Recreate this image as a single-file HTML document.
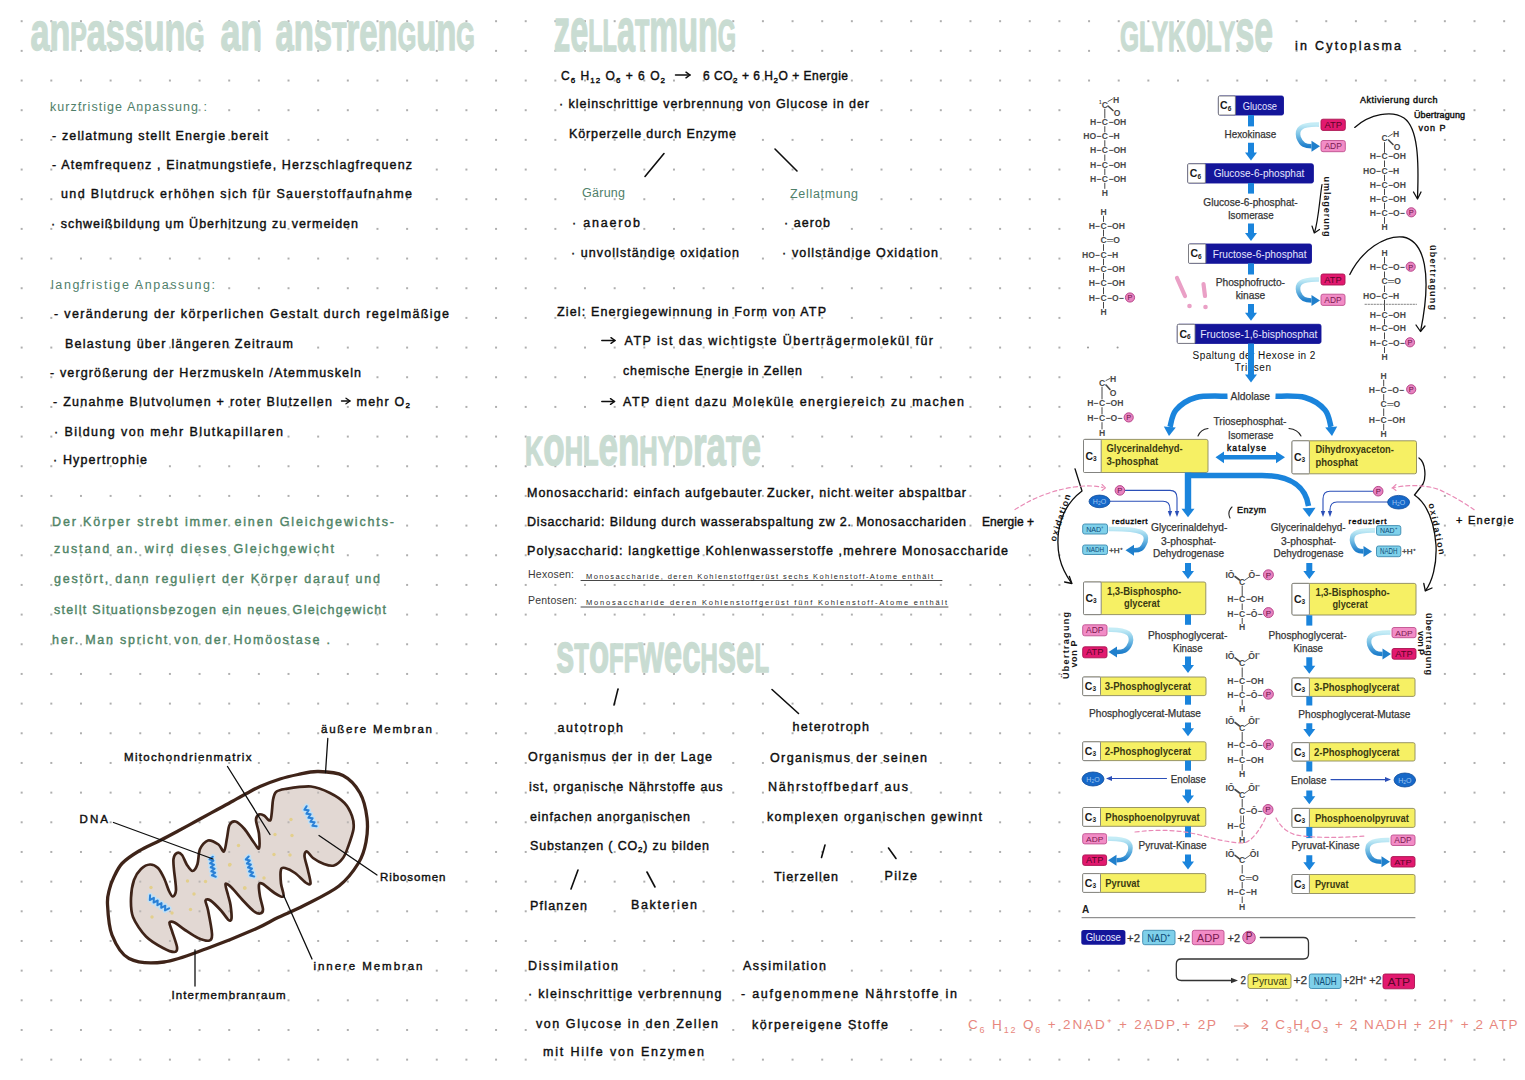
<!DOCTYPE html>
<html><head><meta charset="utf-8"><title>Notizen</title>
<style>
html,body{margin:0;padding:0;background:#fff;width:1525px;height:1080px;overflow:hidden}
svg{display:block;font-family:"Liberation Sans", sans-serif}
</style></head><body>
<svg width="1525" height="1080" viewBox="0 0 1525 1080">
<defs>
<pattern id="dots" x="6.84" y="6.36" width="29.65" height="29.67" patternUnits="userSpaceOnUse">
<circle cx="14.83" cy="14.84" r="1.05" fill="#9a9a9a"/>
</pattern>
</defs>
<rect width="1525" height="1080" fill="#fff"/>
<rect width="1525" height="1080" fill="url(#dots)"/>

<text x="30.4" y="50.0" fill="#c9dcd2" stroke="#c9dcd2" stroke-width="1.4" stroke-linejoin="round" font-weight="bold" textLength="174.2" lengthAdjust="spacingAndGlyphs"><tspan font-size="53.0">a</tspan><tspan font-size="53.0">n</tspan><tspan font-size="38.4">P</tspan><tspan font-size="53.0">a</tspan><tspan font-size="53.0">s</tspan><tspan font-size="53.0">s</tspan><tspan font-size="53.0">u</tspan><tspan font-size="53.0">n</tspan><tspan font-size="38.4">G</tspan></text>
<text x="220.4" y="50.0" fill="#c9dcd2" stroke="#c9dcd2" stroke-width="1.4" stroke-linejoin="round" font-weight="bold" textLength="41.9" lengthAdjust="spacingAndGlyphs"><tspan font-size="53.0">a</tspan><tspan font-size="53.0">n</tspan></text>
<text x="275.4" y="50.0" fill="#c9dcd2" stroke="#c9dcd2" stroke-width="1.4" stroke-linejoin="round" font-weight="bold" textLength="199.4" lengthAdjust="spacingAndGlyphs"><tspan font-size="53.0">a</tspan><tspan font-size="53.0">n</tspan><tspan font-size="53.0">s</tspan><tspan font-size="38.4">T</tspan><tspan font-size="53.0">r</tspan><tspan font-size="53.0">e</tspan><tspan font-size="53.0">n</tspan><tspan font-size="38.4">G</tspan><tspan font-size="53.0">u</tspan><tspan font-size="53.0">n</tspan><tspan font-size="38.4">G</tspan></text>
<text x="554.0" y="51.0" fill="#c9dcd2" stroke="#c9dcd2" stroke-width="1.4" stroke-linejoin="round" font-weight="bold" textLength="182.0" lengthAdjust="spacingAndGlyphs"><tspan font-size="60.6">z</tspan><tspan font-size="60.6">e</tspan><tspan font-size="43.9">L</tspan><tspan font-size="43.9">L</tspan><tspan font-size="60.6">a</tspan><tspan font-size="43.9">T</tspan><tspan font-size="60.6">m</tspan><tspan font-size="60.6">u</tspan><tspan font-size="60.6">n</tspan><tspan font-size="43.9">G</tspan></text>
<text x="525.0" y="465.0" fill="#c9dcd2" stroke="#c9dcd2" stroke-width="1.4" stroke-linejoin="round" font-weight="bold" textLength="236.0" lengthAdjust="spacingAndGlyphs"><tspan font-size="39.8">K</tspan><tspan font-size="54.9">o</tspan><tspan font-size="39.8">H</tspan><tspan font-size="39.8">L</tspan><tspan font-size="54.9">e</tspan><tspan font-size="54.9">n</tspan><tspan font-size="39.8">H</tspan><tspan font-size="39.8">Y</tspan><tspan font-size="39.8">D</tspan><tspan font-size="54.9">r</tspan><tspan font-size="54.9">a</tspan><tspan font-size="39.8">T</tspan><tspan font-size="54.9">e</tspan></text>
<text x="556.0" y="672.0" fill="#c9dcd2" stroke="#c9dcd2" stroke-width="1.4" stroke-linejoin="round" font-weight="bold" textLength="213.0" lengthAdjust="spacingAndGlyphs"><tspan font-size="54.9">s</tspan><tspan font-size="39.8">T</tspan><tspan font-size="54.9">o</tspan><tspan font-size="39.8">F</tspan><tspan font-size="39.8">F</tspan><tspan font-size="54.9">w</tspan><tspan font-size="54.9">e</tspan><tspan font-size="54.9">c</tspan><tspan font-size="39.8">H</tspan><tspan font-size="54.9">s</tspan><tspan font-size="54.9">e</tspan><tspan font-size="39.8">L</tspan></text>
<text x="1120.0" y="51.0" fill="#c9dcd2" stroke="#c9dcd2" stroke-width="1.4" stroke-linejoin="round" font-weight="bold" textLength="153.0" lengthAdjust="spacingAndGlyphs"><tspan font-size="42.5">G</tspan><tspan font-size="42.5">L</tspan><tspan font-size="42.5">Y</tspan><tspan font-size="42.5">K</tspan><tspan font-size="58.7">o</tspan><tspan font-size="42.5">L</tspan><tspan font-size="42.5">Y</tspan><tspan font-size="58.7">s</tspan><tspan font-size="58.7">e</tspan></text>
<text x="50.0" y="110.5" font-size="12.5" fill="#4f806a" font-weight="normal" textLength="157.0" lengthAdjust="spacing" >kurzfristige Anpassung :</text>
<text x="52.0" y="140.0" font-size="12.5" fill="#0e0e0e" font-weight="normal" stroke="#0e0e0e" stroke-width="0.4" textLength="216.0" lengthAdjust="spacing" >- zellatmung stellt Energie bereit</text>
<text x="52.0" y="169.0" font-size="12.5" fill="#0e0e0e" font-weight="normal" stroke="#0e0e0e" stroke-width="0.4" textLength="360.0" lengthAdjust="spacing" >- Atemfrequenz , Einatmungstiefe, Herzschlagfrequenz</text>
<text x="61.0" y="198.0" font-size="12.5" fill="#0e0e0e" font-weight="normal" stroke="#0e0e0e" stroke-width="0.4" textLength="351.0" lengthAdjust="spacing" >und Blutdruck erhöhen sich für Sauerstoffaufnahme</text>
<text x="51.0" y="228.0" font-size="12.5" fill="#0e0e0e" font-weight="normal" stroke="#0e0e0e" stroke-width="0.4" textLength="307.0" lengthAdjust="spacing" >· schweißbildung um Überhitzung zu vermeiden</text>
<text x="51.0" y="288.5" font-size="12.5" fill="#4f806a" font-weight="normal" textLength="164.0" lengthAdjust="spacing" >langfristige Anpassung:</text>
<text x="54.0" y="318.0" font-size="12.5" fill="#0e0e0e" font-weight="normal" stroke="#0e0e0e" stroke-width="0.4" textLength="395.0" lengthAdjust="spacing" >- veränderung der körperlichen Gestalt durch regelmäßige</text>
<text x="65.0" y="347.5" font-size="12.5" fill="#0e0e0e" font-weight="normal" stroke="#0e0e0e" stroke-width="0.4" textLength="228.0" lengthAdjust="spacing" >Belastung über längeren Zeitraum</text>
<text x="50.0" y="377.0" font-size="12.5" fill="#0e0e0e" font-weight="normal" stroke="#0e0e0e" stroke-width="0.4" textLength="311.0" lengthAdjust="spacing" >- vergrößerung der Herzmuskeln /Atemmuskeln</text>
<text x="53.0" y="405.5" font-size="12.5" fill="#0e0e0e" font-weight="normal" stroke="#0e0e0e" stroke-width="0.4" textLength="279.0" lengthAdjust="spacing" >- Zunahme Blutvolumen + roter Blutzellen</text>
<line x1="341.5" y1="401.0" x2="350.0" y2="401.0" stroke="#0e0e0e" stroke-width="1.3" stroke-linecap="round" />
<path d="M346.0,398.2 L350.0,401.0 L346.0,403.8" stroke="#0e0e0e" stroke-width="1.3" fill="none" stroke-linecap="round" stroke-linejoin="round" />
<text x="356.5" y="405.5" font-size="12.5" fill="#0e0e0e" font-weight="normal" stroke="#0e0e0e" stroke-width="0.4" textLength="53.5" lengthAdjust="spacing" >mehr O<tspan font-size="8" dy="2.5">2</tspan></text>
<text x="54.0" y="435.5" font-size="12.5" fill="#0e0e0e" font-weight="normal" stroke="#0e0e0e" stroke-width="0.4" textLength="229.0" lengthAdjust="spacing" >·  Bildung von mehr Blutkapillaren</text>
<text x="53.0" y="464.0" font-size="12.5" fill="#0e0e0e" font-weight="normal" stroke="#0e0e0e" stroke-width="0.4" textLength="94.0" lengthAdjust="spacing" >· Hypertrophie</text>
<text x="52.0" y="525.5" font-size="12.5" fill="#4f8466" font-weight="normal" stroke="#4f8466" stroke-width="0.4" textLength="342.0" lengthAdjust="spacing" >Der Körper strebt immer einen Gleichgewichts-</text>
<text x="54.0" y="553.0" font-size="12.5" fill="#4f8466" font-weight="normal" stroke="#4f8466" stroke-width="0.4" textLength="280.0" lengthAdjust="spacing" >zustand an. wird dieses Gleichgewicht</text>
<text x="54.0" y="583.0" font-size="12.5" fill="#4f8466" font-weight="normal" stroke="#4f8466" stroke-width="0.4" textLength="326.0" lengthAdjust="spacing" >gestört, dann reguliert der Körper darauf und</text>
<text x="54.0" y="614.0" font-size="12.5" fill="#4f8466" font-weight="normal" stroke="#4f8466" stroke-width="0.4" textLength="332.0" lengthAdjust="spacing" >stellt Situationsbezogen ein neues Gleichgewicht</text>
<text x="52.0" y="644.0" font-size="12.5" fill="#4f8466" font-weight="normal" stroke="#4f8466" stroke-width="0.4" textLength="278.0" lengthAdjust="spacing" >her. Man spricht von der Homöostase .</text>
<text x="561.0" y="80.0" font-size="12" fill="#0e0e0e" font-weight="normal" stroke="#0e0e0e" stroke-width="0.4" textLength="104.0" lengthAdjust="spacing" >C<tspan font-size="8" dy="2.5">6</tspan><tspan dy="-2.5"> H</tspan><tspan font-size="8" dy="2.5">12</tspan><tspan dy="-2.5"> O</tspan><tspan font-size="8" dy="2.5">6</tspan><tspan dy="-2.5">  +  6 O</tspan><tspan font-size="8" dy="2.5">2</tspan></text>
<line x1="675.5" y1="75.0" x2="690.0" y2="75.0" stroke="#0e0e0e" stroke-width="1.5" stroke-linecap="round" />
<path d="M686.0,72.2 L690.0,75.0 L686.0,77.8" stroke="#0e0e0e" stroke-width="1.5" fill="none" stroke-linecap="round" stroke-linejoin="round" />
<text x="703.0" y="80.0" font-size="12" fill="#0e0e0e" font-weight="normal" stroke="#0e0e0e" stroke-width="0.4" textLength="145.0" lengthAdjust="spacing" >6 CO<tspan font-size="8" dy="2.5">2</tspan><tspan dy="-2.5"> + 6 H</tspan><tspan font-size="8" dy="2.5">2</tspan><tspan dy="-2.5">O + Energie</tspan></text>
<text x="559.0" y="108.0" font-size="12.5" fill="#0e0e0e" font-weight="normal" stroke="#0e0e0e" stroke-width="0.4" textLength="310.0" lengthAdjust="spacing" >· kleinschrittige verbrennung von Glucose in der</text>
<text x="569.0" y="137.5" font-size="12.5" fill="#0e0e0e" font-weight="normal" stroke="#0e0e0e" stroke-width="0.4" textLength="167.0" lengthAdjust="spacing" >Körperzelle durch Enzyme</text>
<line x1="664.0" y1="153.5" x2="645.0" y2="176.5" stroke="#0e0e0e" stroke-width="1.6" stroke-linecap="round" />
<line x1="775.0" y1="149.0" x2="797.0" y2="171.0" stroke="#0e0e0e" stroke-width="1.6" stroke-linecap="round" />
<text x="582.0" y="197.0" font-size="12.5" fill="#4f806a" font-weight="normal" textLength="43.0" lengthAdjust="spacing" >Gärung</text>
<text x="790.0" y="198.0" font-size="12.5" fill="#4f806a" font-weight="normal" textLength="68.0" lengthAdjust="spacing" >Zellatmung</text>
<text x="572.0" y="227.0" font-size="12.5" fill="#0e0e0e" font-weight="normal" stroke="#0e0e0e" stroke-width="0.4" textLength="68.0" lengthAdjust="spacing" >·  anaerob</text>
<text x="784.0" y="227.0" font-size="12.5" fill="#0e0e0e" font-weight="normal" stroke="#0e0e0e" stroke-width="0.4" textLength="46.0" lengthAdjust="spacing" >· aerob</text>
<text x="571.0" y="256.5" font-size="12.5" fill="#0e0e0e" font-weight="normal" stroke="#0e0e0e" stroke-width="0.4" textLength="168.0" lengthAdjust="spacing" >· unvollständige oxidation</text>
<text x="782.0" y="256.5" font-size="12.5" fill="#0e0e0e" font-weight="normal" stroke="#0e0e0e" stroke-width="0.4" textLength="156.0" lengthAdjust="spacing" >· vollständige Oxidation</text>
<text x="557.0" y="316.0" font-size="12.5" fill="#0e0e0e" font-weight="normal" stroke="#0e0e0e" stroke-width="0.4" textLength="269.0" lengthAdjust="spacing" >Ziel:  Energiegewinnung in Form von ATP</text>
<line x1="601.8" y1="340.5" x2="615.0" y2="340.5" stroke="#0e0e0e" stroke-width="1.5" stroke-linecap="round" />
<path d="M611.0,337.7 L615.0,340.5 L611.0,343.3" stroke="#0e0e0e" stroke-width="1.5" fill="none" stroke-linecap="round" stroke-linejoin="round" />
<text x="624.5" y="345.0" font-size="12.5" fill="#0e0e0e" font-weight="normal" stroke="#0e0e0e" stroke-width="0.4" textLength="308.5" lengthAdjust="spacing" >ATP ist das wichtigste Überträgermolekül für</text>
<text x="623.0" y="375.0" font-size="12.5" fill="#0e0e0e" font-weight="normal" stroke="#0e0e0e" stroke-width="0.4" textLength="179.0" lengthAdjust="spacing" >chemische Energie in Zellen</text>
<line x1="601.8" y1="401.5" x2="614.5" y2="401.5" stroke="#0e0e0e" stroke-width="1.5" stroke-linecap="round" />
<path d="M610.5,398.7 L614.5,401.5 L610.5,404.3" stroke="#0e0e0e" stroke-width="1.5" fill="none" stroke-linecap="round" stroke-linejoin="round" />
<text x="623.0" y="406.0" font-size="12.5" fill="#0e0e0e" font-weight="normal" stroke="#0e0e0e" stroke-width="0.4" textLength="341.0" lengthAdjust="spacing" >ATP dient dazu Moleküle energiereich zu machen</text>
<text x="527.0" y="496.5" font-size="12.5" fill="#0e0e0e" font-weight="normal" stroke="#0e0e0e" stroke-width="0.4" textLength="439.0" lengthAdjust="spacing" >Monosaccharid:  einfach aufgebauter Zucker, nicht weiter abspaltbar</text>
<text x="527.0" y="526.0" font-size="12.5" fill="#0e0e0e" font-weight="normal" stroke="#0e0e0e" stroke-width="0.4" textLength="439.0" lengthAdjust="spacing" >Disaccharid: Bildung durch wasserabspaltung zw 2. Monosacchariden</text>
<text x="527.0" y="555.0" font-size="12.5" fill="#0e0e0e" font-weight="normal" stroke="#0e0e0e" stroke-width="0.4" textLength="481.0" lengthAdjust="spacing" >Polysaccharid: langkettige Kohlenwasserstoffe ,mehrere Monosaccharide</text>
<text x="528.0" y="577.5" font-size="10.5" fill="#3a3a3a" font-weight="normal" textLength="46.0" lengthAdjust="spacing" >Hexosen:</text>
<text x="586.0" y="579.0" font-size="7.5" fill="#2a2a2a" font-weight="normal" textLength="347.0" lengthAdjust="spacing" >Monosaccharide, deren Kohlenstoffgerüst sechs Kohlenstoff-Atome enthält</text>
<line x1="581.0" y1="580.5" x2="942.0" y2="580.5" stroke="#333" stroke-width="0.9" stroke-linecap="round" />
<text x="528.0" y="604.0" font-size="10.5" fill="#3a3a3a" font-weight="normal" textLength="49.0" lengthAdjust="spacing" >Pentosen:</text>
<text x="586.0" y="605.0" font-size="7.5" fill="#2a2a2a" font-weight="normal" textLength="361.0" lengthAdjust="spacing" >Monosaccharide deren Kohlenstoffgerüst fünf Kohlenstoff-Atome enthält</text>
<line x1="581.0" y1="607.0" x2="948.0" y2="607.0" stroke="#333" stroke-width="0.9" stroke-linecap="round" />
<line x1="618.0" y1="689.0" x2="614.0" y2="705.0" stroke="#0e0e0e" stroke-width="1.6" stroke-linecap="round" />
<line x1="772.0" y1="689.5" x2="798.5" y2="713.5" stroke="#0e0e0e" stroke-width="1.6" stroke-linecap="round" />
<text x="557.5" y="731.5" font-size="12.5" fill="#0e0e0e" font-weight="normal" stroke="#0e0e0e" stroke-width="0.4" textLength="65.5" lengthAdjust="spacing" >autotroph</text>
<text x="792.5" y="731.0" font-size="12.5" fill="#0e0e0e" font-weight="normal" stroke="#0e0e0e" stroke-width="0.4" textLength="76.5" lengthAdjust="spacing" >heterotroph</text>
<text x="528.0" y="761.0" font-size="12.5" fill="#0e0e0e" font-weight="normal" stroke="#0e0e0e" stroke-width="0.4" textLength="184.0" lengthAdjust="spacing" >Organismus der in der Lage</text>
<text x="770.0" y="761.5" font-size="12.5" fill="#0e0e0e" font-weight="normal" stroke="#0e0e0e" stroke-width="0.4" textLength="157.0" lengthAdjust="spacing" >Organismus der seinen</text>
<text x="529.0" y="790.5" font-size="12.5" fill="#0e0e0e" font-weight="normal" stroke="#0e0e0e" stroke-width="0.4" textLength="193.5" lengthAdjust="spacing" >ist, organische Nährstoffe aus</text>
<text x="768.0" y="790.5" font-size="12.5" fill="#0e0e0e" font-weight="normal" stroke="#0e0e0e" stroke-width="0.4" textLength="140.0" lengthAdjust="spacing" >Nährstoffbedarf aus</text>
<text x="530.0" y="820.5" font-size="12.5" fill="#0e0e0e" font-weight="normal" stroke="#0e0e0e" stroke-width="0.4" textLength="160.0" lengthAdjust="spacing" >einfachen anorganischen</text>
<text x="767.0" y="820.5" font-size="12.5" fill="#0e0e0e" font-weight="normal" stroke="#0e0e0e" stroke-width="0.4" textLength="215.0" lengthAdjust="spacing" >komplexen organischen gewinnt</text>
<text x="530.0" y="849.5" font-size="12.5" fill="#0e0e0e" font-weight="normal" stroke="#0e0e0e" stroke-width="0.4" textLength="179.0" lengthAdjust="spacing" >Substanzen ( CO<tspan font-size="8" dy="2.5">2</tspan><tspan dy="-2.5">) zu bilden</tspan></text>
<line x1="578.0" y1="870.0" x2="571.0" y2="889.0" stroke="#0e0e0e" stroke-width="1.6" stroke-linecap="round" />
<line x1="647.0" y1="872.0" x2="655.0" y2="887.0" stroke="#0e0e0e" stroke-width="1.6" stroke-linecap="round" />
<line x1="825.0" y1="845.0" x2="821.5" y2="857.5" stroke="#0e0e0e" stroke-width="1.6" stroke-linecap="round" />
<line x1="888.5" y1="848.0" x2="896.0" y2="858.5" stroke="#0e0e0e" stroke-width="1.6" stroke-linecap="round" />
<text x="774.0" y="880.5" font-size="12.5" fill="#0e0e0e" font-weight="normal" stroke="#0e0e0e" stroke-width="0.4" textLength="64.0" lengthAdjust="spacing" >Tierzellen</text>
<text x="884.5" y="880.0" font-size="12.5" fill="#0e0e0e" font-weight="normal" stroke="#0e0e0e" stroke-width="0.4" textLength="32.5" lengthAdjust="spacing" >Pilze</text>
<text x="530.0" y="910.0" font-size="12.5" fill="#0e0e0e" font-weight="normal" stroke="#0e0e0e" stroke-width="0.4" textLength="57.0" lengthAdjust="spacing" >Pflanzen</text>
<text x="631.0" y="909.0" font-size="12.5" fill="#0e0e0e" font-weight="normal" stroke="#0e0e0e" stroke-width="0.4" textLength="66.0" lengthAdjust="spacing" >Bakterien</text>
<text x="528.0" y="969.5" font-size="12.5" fill="#0e0e0e" font-weight="normal" stroke="#0e0e0e" stroke-width="0.4" textLength="90.0" lengthAdjust="spacing" >Dissimilation</text>
<text x="743.0" y="969.5" font-size="12.5" fill="#0e0e0e" font-weight="normal" stroke="#0e0e0e" stroke-width="0.4" textLength="83.0" lengthAdjust="spacing" >Assimilation</text>
<text x="528.0" y="997.5" font-size="12.5" fill="#0e0e0e" font-weight="normal" stroke="#0e0e0e" stroke-width="0.4" textLength="193.5" lengthAdjust="spacing" >·  kleinschrittige verbrennung</text>
<text x="741.0" y="998.0" font-size="12.5" fill="#0e0e0e" font-weight="normal" stroke="#0e0e0e" stroke-width="0.4" textLength="216.0" lengthAdjust="spacing" >- aufgenommene Nährstoffe in</text>
<text x="536.0" y="1028.0" font-size="12.5" fill="#0e0e0e" font-weight="normal" stroke="#0e0e0e" stroke-width="0.4" textLength="182.0" lengthAdjust="spacing" >von Glucose in den  Zellen</text>
<text x="752.0" y="1029.0" font-size="12.5" fill="#0e0e0e" font-weight="normal" stroke="#0e0e0e" stroke-width="0.4" textLength="136.0" lengthAdjust="spacing" >körpereigene Stoffe</text>
<text x="543.0" y="1056.0" font-size="12.5" fill="#0e0e0e" font-weight="normal" stroke="#0e0e0e" stroke-width="0.4" textLength="161.0" lengthAdjust="spacing" >mit Hilfe von Enzymen</text>
<text x="982.0" y="526.0" font-size="12" fill="#0e0e0e" font-weight="normal" stroke="#0e0e0e" stroke-width="0.4" textLength="52.0" lengthAdjust="spacing" >Energie  +</text>
<text x="1295.0" y="50.0" font-size="12.5" fill="#0e0e0e" font-weight="normal" stroke="#0e0e0e" stroke-width="0.4" textLength="106.0" lengthAdjust="spacing" >in Cytoplasma</text>
<text x="968.0" y="1029.3" font-size="13.5" fill="#e8877e" font-weight="normal" textLength="248.0" lengthAdjust="spacing" >C<tspan font-size="9" dy="4">6</tspan><tspan dy="-4"> H</tspan><tspan font-size="9" dy="4">12</tspan><tspan dy="-4"> O</tspan><tspan font-size="9" dy="4">6</tspan><tspan dy="-4">  + 2NAD⁺ + 2ADP + 2P</tspan></text>
<line x1="1234.5" y1="1026.0" x2="1248.0" y2="1026.0" stroke="#e8877e" stroke-width="1.1" stroke-linecap="round" />
<path d="M1244.0,1023.2 L1248.0,1026.0 L1244.0,1028.8" stroke="#e8877e" stroke-width="1.1" fill="none" stroke-linecap="round" stroke-linejoin="round" />
<text x="1261.0" y="1029.3" font-size="13.5" fill="#e8877e" font-weight="normal" textLength="256.5" lengthAdjust="spacing" >2 C<tspan font-size="9" dy="4">3</tspan><tspan dy="-4">H</tspan><tspan font-size="9" dy="4">4</tspan><tspan dy="-4">O</tspan><tspan font-size="9" dy="4">3</tspan><tspan dy="-4">  + 2 NADH + 2H⁺ + 2 ATP</tspan></text>
<path d="M107.5,904.0 C107.1,896.3 108.5,893.3 109.5,889.0 C110.5,884.7 111.4,882.2 113.5,878.0 C115.6,873.8 117.8,868.0 122.0,863.5 C126.2,859.0 132.7,854.8 139.0,851.0 C145.3,847.2 153.5,843.8 160.0,840.5 C166.5,837.2 171.3,834.6 178.0,831.0 C184.7,827.4 193.6,822.5 200.0,819.0 C206.4,815.5 211.0,813.0 216.5,810.0 C222.0,807.0 228.0,803.8 233.0,801.0 C238.0,798.2 242.0,795.9 246.5,793.5 C251.0,791.1 254.4,788.9 260.0,786.5 C265.6,784.1 273.7,781.0 280.0,779.0 C286.3,777.0 291.7,775.8 298.0,774.5 C304.3,773.2 310.5,771.3 318.0,771.5 C325.5,771.7 336.0,771.9 343.0,775.5 C350.0,779.1 356.0,785.9 360.0,793.0 C364.0,800.1 366.0,809.8 367.0,818.0 C368.0,826.2 367.4,834.5 366.0,842.0 C364.6,849.5 363.0,855.7 358.5,863.0 C354.0,870.3 348.1,878.9 339.0,886.0 C329.9,893.1 314.2,900.2 304.0,905.5 C293.8,910.8 286.1,913.6 278.0,917.5 C269.9,921.4 267.3,923.8 255.5,929.0 C243.7,934.2 222.2,943.0 207.0,948.5 C191.8,954.0 177.0,960.3 164.0,962.0 C151.0,963.7 137.7,963.0 129.0,958.5 C120.3,954.0 115.6,944.1 112.0,935.0 C108.4,925.9 107.9,911.7 107.5,904.0Z" stroke="#3f2419" stroke-width="3.3" fill="none" stroke-linecap="round" stroke-linejoin="round" />
<clipPath id="mclip"><path d="M131.0,898.0 C131.2,892.5 132.5,884.4 134.0,880.0 C135.5,875.6 138.6,871.3 141.0,869.0 C143.4,866.7 147.4,864.6 150.0,864.5 C152.6,864.4 155.9,866.0 158.0,868.0 C160.1,870.0 162.3,874.5 164.0,878.0 C165.7,881.5 167.7,888.2 169.0,891.0 C170.3,893.8 171.9,896.6 173.0,896.5 C174.1,896.4 175.8,894.0 176.0,890.0 C176.2,886.0 174.4,874.6 174.0,870.0 C173.6,865.4 173.1,861.5 173.5,859.0 C173.9,856.5 175.7,853.6 177.0,853.0 C178.3,852.4 180.5,853.2 182.0,855.0 C183.5,856.8 185.4,862.6 187.0,865.0 C188.6,867.4 190.9,871.1 192.5,871.0 C194.1,870.9 196.4,867.3 197.5,864.0 C198.6,860.7 198.4,852.5 200.0,849.0 C201.6,845.5 205.2,841.2 208.0,840.5 C210.8,839.8 216.1,842.9 218.5,844.5 C220.9,846.1 222.7,852.5 224.0,851.5 C225.3,850.5 226.2,842.0 227.0,838.0 C227.8,834.0 228.2,827.5 229.5,825.0 C230.8,822.5 233.2,820.9 235.5,821.5 C237.8,822.1 241.8,825.9 244.5,829.0 C247.2,832.1 251.3,839.1 253.5,842.0 C255.7,844.9 258.2,849.7 259.0,848.5 C259.8,847.3 259.4,838.3 259.0,834.0 C258.6,829.7 256.0,822.9 256.0,820.0 C256.0,817.1 257.8,815.2 259.0,814.5 C260.2,813.8 262.3,814.7 264.0,815.5 C265.7,816.3 269.1,822.3 270.5,820.0 C271.9,817.7 272.2,804.2 273.0,800.0 C273.8,795.8 274.2,793.6 276.0,792.0 C277.8,790.4 279.8,789.8 285.0,789.0 C290.2,788.2 304.2,785.9 311.0,786.5 C317.8,787.1 325.0,790.5 330.0,793.0 C335.0,795.5 341.2,799.5 344.5,803.0 C347.8,806.5 350.6,812.1 352.0,816.0 C353.4,819.9 354.1,824.4 353.5,829.0 C352.9,833.6 349.6,842.6 348.0,847.0 C346.4,851.4 345.1,855.2 343.0,858.0 C340.9,860.8 336.9,864.6 334.0,865.5 C331.1,866.4 327.1,865.1 324.0,864.0 C320.9,862.9 315.6,859.9 313.0,858.0 C310.4,856.1 308.3,851.8 307.0,851.5 C305.7,851.2 304.4,853.1 304.5,856.0 C304.6,858.9 307.1,866.4 308.0,870.5 C308.9,874.6 310.9,881.7 310.5,883.5 C310.1,885.3 307.8,884.1 305.5,882.5 C303.2,880.9 298.1,875.2 295.0,873.0 C291.9,870.8 287.1,868.5 285.0,868.0 C282.9,867.5 281.6,867.2 281.0,869.5 C280.4,871.8 280.6,879.5 281.0,883.5 C281.4,887.5 284.5,895.1 283.5,896.5 C282.5,897.9 277.6,894.9 274.5,893.0 C271.4,891.1 265.3,885.3 263.0,884.0 C260.7,882.7 259.4,882.6 259.0,884.5 C258.6,886.4 259.4,892.8 260.0,896.5 C260.6,900.2 263.0,907.0 263.0,909.5 C263.0,912.0 261.4,913.3 260.0,913.5 C258.6,913.7 256.1,913.0 253.5,911.0 C250.9,909.0 246.3,904.0 243.0,900.5 C239.7,897.0 234.1,890.0 231.5,887.5 C228.9,885.0 226.0,882.9 225.5,884.0 C225.0,885.1 227.2,891.9 228.0,895.0 C228.8,898.1 230.0,901.5 230.5,905.0 C231.0,908.5 231.8,916.2 231.5,918.5 C231.2,920.8 230.1,921.2 228.5,920.0 C226.9,918.8 223.7,913.4 221.0,910.5 C218.3,907.6 212.8,902.0 210.5,900.5 C208.2,899.0 205.9,899.1 205.5,900.5 C205.1,901.9 207.0,905.0 208.0,910.0 C209.0,915.0 211.8,929.4 212.0,934.0 C212.2,938.6 211.6,939.9 209.5,940.5 C207.4,941.1 201.7,939.6 198.0,938.0 C194.3,936.4 188.5,932.3 185.0,930.0 C181.5,927.7 176.8,923.6 174.5,922.5 C172.2,921.4 169.9,921.2 169.5,922.5 C169.1,923.8 170.9,927.3 172.0,931.0 C173.1,934.7 176.6,943.9 177.0,947.0 C177.4,950.1 176.6,951.9 174.5,952.0 C172.4,952.1 167.3,950.3 163.0,948.0 C158.7,945.7 150.5,941.1 146.0,936.5 C141.5,931.9 135.2,922.8 133.0,917.0 C130.8,911.2 130.8,903.5 131.0,898.0Z"/></clipPath>
<path d="M131.0,898.0 C131.2,892.5 132.5,884.4 134.0,880.0 C135.5,875.6 138.6,871.3 141.0,869.0 C143.4,866.7 147.4,864.6 150.0,864.5 C152.6,864.4 155.9,866.0 158.0,868.0 C160.1,870.0 162.3,874.5 164.0,878.0 C165.7,881.5 167.7,888.2 169.0,891.0 C170.3,893.8 171.9,896.6 173.0,896.5 C174.1,896.4 175.8,894.0 176.0,890.0 C176.2,886.0 174.4,874.6 174.0,870.0 C173.6,865.4 173.1,861.5 173.5,859.0 C173.9,856.5 175.7,853.6 177.0,853.0 C178.3,852.4 180.5,853.2 182.0,855.0 C183.5,856.8 185.4,862.6 187.0,865.0 C188.6,867.4 190.9,871.1 192.5,871.0 C194.1,870.9 196.4,867.3 197.5,864.0 C198.6,860.7 198.4,852.5 200.0,849.0 C201.6,845.5 205.2,841.2 208.0,840.5 C210.8,839.8 216.1,842.9 218.5,844.5 C220.9,846.1 222.7,852.5 224.0,851.5 C225.3,850.5 226.2,842.0 227.0,838.0 C227.8,834.0 228.2,827.5 229.5,825.0 C230.8,822.5 233.2,820.9 235.5,821.5 C237.8,822.1 241.8,825.9 244.5,829.0 C247.2,832.1 251.3,839.1 253.5,842.0 C255.7,844.9 258.2,849.7 259.0,848.5 C259.8,847.3 259.4,838.3 259.0,834.0 C258.6,829.7 256.0,822.9 256.0,820.0 C256.0,817.1 257.8,815.2 259.0,814.5 C260.2,813.8 262.3,814.7 264.0,815.5 C265.7,816.3 269.1,822.3 270.5,820.0 C271.9,817.7 272.2,804.2 273.0,800.0 C273.8,795.8 274.2,793.6 276.0,792.0 C277.8,790.4 279.8,789.8 285.0,789.0 C290.2,788.2 304.2,785.9 311.0,786.5 C317.8,787.1 325.0,790.5 330.0,793.0 C335.0,795.5 341.2,799.5 344.5,803.0 C347.8,806.5 350.6,812.1 352.0,816.0 C353.4,819.9 354.1,824.4 353.5,829.0 C352.9,833.6 349.6,842.6 348.0,847.0 C346.4,851.4 345.1,855.2 343.0,858.0 C340.9,860.8 336.9,864.6 334.0,865.5 C331.1,866.4 327.1,865.1 324.0,864.0 C320.9,862.9 315.6,859.9 313.0,858.0 C310.4,856.1 308.3,851.8 307.0,851.5 C305.7,851.2 304.4,853.1 304.5,856.0 C304.6,858.9 307.1,866.4 308.0,870.5 C308.9,874.6 310.9,881.7 310.5,883.5 C310.1,885.3 307.8,884.1 305.5,882.5 C303.2,880.9 298.1,875.2 295.0,873.0 C291.9,870.8 287.1,868.5 285.0,868.0 C282.9,867.5 281.6,867.2 281.0,869.5 C280.4,871.8 280.6,879.5 281.0,883.5 C281.4,887.5 284.5,895.1 283.5,896.5 C282.5,897.9 277.6,894.9 274.5,893.0 C271.4,891.1 265.3,885.3 263.0,884.0 C260.7,882.7 259.4,882.6 259.0,884.5 C258.6,886.4 259.4,892.8 260.0,896.5 C260.6,900.2 263.0,907.0 263.0,909.5 C263.0,912.0 261.4,913.3 260.0,913.5 C258.6,913.7 256.1,913.0 253.5,911.0 C250.9,909.0 246.3,904.0 243.0,900.5 C239.7,897.0 234.1,890.0 231.5,887.5 C228.9,885.0 226.0,882.9 225.5,884.0 C225.0,885.1 227.2,891.9 228.0,895.0 C228.8,898.1 230.0,901.5 230.5,905.0 C231.0,908.5 231.8,916.2 231.5,918.5 C231.2,920.8 230.1,921.2 228.5,920.0 C226.9,918.8 223.7,913.4 221.0,910.5 C218.3,907.6 212.8,902.0 210.5,900.5 C208.2,899.0 205.9,899.1 205.5,900.5 C205.1,901.9 207.0,905.0 208.0,910.0 C209.0,915.0 211.8,929.4 212.0,934.0 C212.2,938.6 211.6,939.9 209.5,940.5 C207.4,941.1 201.7,939.6 198.0,938.0 C194.3,936.4 188.5,932.3 185.0,930.0 C181.5,927.7 176.8,923.6 174.5,922.5 C172.2,921.4 169.9,921.2 169.5,922.5 C169.1,923.8 170.9,927.3 172.0,931.0 C173.1,934.7 176.6,943.9 177.0,947.0 C177.4,950.1 176.6,951.9 174.5,952.0 C172.4,952.1 167.3,950.3 163.0,948.0 C158.7,945.7 150.5,941.1 146.0,936.5 C141.5,931.9 135.2,922.8 133.0,917.0 C130.8,911.2 130.8,903.5 131.0,898.0Z" fill="#e2d8d3"/>
<rect x="100" y="760" width="280" height="210" fill="url(#dots)" clip-path="url(#mclip)" opacity="0.7"/>
<path d="M131.0,898.0 C131.2,892.5 132.5,884.4 134.0,880.0 C135.5,875.6 138.6,871.3 141.0,869.0 C143.4,866.7 147.4,864.6 150.0,864.5 C152.6,864.4 155.9,866.0 158.0,868.0 C160.1,870.0 162.3,874.5 164.0,878.0 C165.7,881.5 167.7,888.2 169.0,891.0 C170.3,893.8 171.9,896.6 173.0,896.5 C174.1,896.4 175.8,894.0 176.0,890.0 C176.2,886.0 174.4,874.6 174.0,870.0 C173.6,865.4 173.1,861.5 173.5,859.0 C173.9,856.5 175.7,853.6 177.0,853.0 C178.3,852.4 180.5,853.2 182.0,855.0 C183.5,856.8 185.4,862.6 187.0,865.0 C188.6,867.4 190.9,871.1 192.5,871.0 C194.1,870.9 196.4,867.3 197.5,864.0 C198.6,860.7 198.4,852.5 200.0,849.0 C201.6,845.5 205.2,841.2 208.0,840.5 C210.8,839.8 216.1,842.9 218.5,844.5 C220.9,846.1 222.7,852.5 224.0,851.5 C225.3,850.5 226.2,842.0 227.0,838.0 C227.8,834.0 228.2,827.5 229.5,825.0 C230.8,822.5 233.2,820.9 235.5,821.5 C237.8,822.1 241.8,825.9 244.5,829.0 C247.2,832.1 251.3,839.1 253.5,842.0 C255.7,844.9 258.2,849.7 259.0,848.5 C259.8,847.3 259.4,838.3 259.0,834.0 C258.6,829.7 256.0,822.9 256.0,820.0 C256.0,817.1 257.8,815.2 259.0,814.5 C260.2,813.8 262.3,814.7 264.0,815.5 C265.7,816.3 269.1,822.3 270.5,820.0 C271.9,817.7 272.2,804.2 273.0,800.0 C273.8,795.8 274.2,793.6 276.0,792.0 C277.8,790.4 279.8,789.8 285.0,789.0 C290.2,788.2 304.2,785.9 311.0,786.5 C317.8,787.1 325.0,790.5 330.0,793.0 C335.0,795.5 341.2,799.5 344.5,803.0 C347.8,806.5 350.6,812.1 352.0,816.0 C353.4,819.9 354.1,824.4 353.5,829.0 C352.9,833.6 349.6,842.6 348.0,847.0 C346.4,851.4 345.1,855.2 343.0,858.0 C340.9,860.8 336.9,864.6 334.0,865.5 C331.1,866.4 327.1,865.1 324.0,864.0 C320.9,862.9 315.6,859.9 313.0,858.0 C310.4,856.1 308.3,851.8 307.0,851.5 C305.7,851.2 304.4,853.1 304.5,856.0 C304.6,858.9 307.1,866.4 308.0,870.5 C308.9,874.6 310.9,881.7 310.5,883.5 C310.1,885.3 307.8,884.1 305.5,882.5 C303.2,880.9 298.1,875.2 295.0,873.0 C291.9,870.8 287.1,868.5 285.0,868.0 C282.9,867.5 281.6,867.2 281.0,869.5 C280.4,871.8 280.6,879.5 281.0,883.5 C281.4,887.5 284.5,895.1 283.5,896.5 C282.5,897.9 277.6,894.9 274.5,893.0 C271.4,891.1 265.3,885.3 263.0,884.0 C260.7,882.7 259.4,882.6 259.0,884.5 C258.6,886.4 259.4,892.8 260.0,896.5 C260.6,900.2 263.0,907.0 263.0,909.5 C263.0,912.0 261.4,913.3 260.0,913.5 C258.6,913.7 256.1,913.0 253.5,911.0 C250.9,909.0 246.3,904.0 243.0,900.5 C239.7,897.0 234.1,890.0 231.5,887.5 C228.9,885.0 226.0,882.9 225.5,884.0 C225.0,885.1 227.2,891.9 228.0,895.0 C228.8,898.1 230.0,901.5 230.5,905.0 C231.0,908.5 231.8,916.2 231.5,918.5 C231.2,920.8 230.1,921.2 228.5,920.0 C226.9,918.8 223.7,913.4 221.0,910.5 C218.3,907.6 212.8,902.0 210.5,900.5 C208.2,899.0 205.9,899.1 205.5,900.5 C205.1,901.9 207.0,905.0 208.0,910.0 C209.0,915.0 211.8,929.4 212.0,934.0 C212.2,938.6 211.6,939.9 209.5,940.5 C207.4,941.1 201.7,939.6 198.0,938.0 C194.3,936.4 188.5,932.3 185.0,930.0 C181.5,927.7 176.8,923.6 174.5,922.5 C172.2,921.4 169.9,921.2 169.5,922.5 C169.1,923.8 170.9,927.3 172.0,931.0 C173.1,934.7 176.6,943.9 177.0,947.0 C177.4,950.1 176.6,951.9 174.5,952.0 C172.4,952.1 167.3,950.3 163.0,948.0 C158.7,945.7 150.5,941.1 146.0,936.5 C141.5,931.9 135.2,922.8 133.0,917.0 C130.8,911.2 130.8,903.5 131.0,898.0Z" stroke="#3f2419" stroke-width="2.7" fill="none" stroke-linecap="round" stroke-linejoin="round" />
<circle cx="151" cy="887.5" r="1.7" fill="#e3cf8c"/>
<circle cx="152" cy="917" r="1.7" fill="#e3cf8c"/>
<circle cx="172" cy="913" r="1.7" fill="#e3cf8c"/>
<circle cx="187.5" cy="881" r="1.7" fill="#e3cf8c"/>
<circle cx="194" cy="894" r="1.7" fill="#e3cf8c"/>
<circle cx="190.5" cy="909.5" r="1.7" fill="#e3cf8c"/>
<circle cx="205.5" cy="881.5" r="1.7" fill="#e3cf8c"/>
<circle cx="230" cy="864.5" r="1.7" fill="#e3cf8c"/>
<circle cx="238.5" cy="845.5" r="1.7" fill="#e3cf8c"/>
<circle cx="244.5" cy="888" r="1.7" fill="#e3cf8c"/>
<circle cx="275" cy="834.5" r="1.7" fill="#e3cf8c"/>
<circle cx="291" cy="819.5" r="1.7" fill="#e3cf8c"/>
<circle cx="292" cy="835.5" r="1.7" fill="#e3cf8c"/>
<circle cx="274" cy="854.5" r="1.7" fill="#e3cf8c"/>
<circle cx="290" cy="855" r="1.7" fill="#e3cf8c"/>
<circle cx="264" cy="878" r="1.7" fill="#e3cf8c"/>
<circle cx="229.5" cy="865" r="1.7" fill="#e3cf8c"/>
<circle cx="245" cy="888" r="1.7" fill="#e3cf8c"/>
<path d="M150.1,895.3 L149.8,900.0 L153.9,897.9 L153.6,902.6 L157.7,900.5 L157.4,905.2 L161.5,903.1 L161.2,907.8 L165.3,905.7 L165.0,910.4 L169.1,908.3" stroke="#bfe0f7" stroke-width="5" fill="none" stroke-linejoin="round" stroke-linecap="round"/>
<path d="M150.1,895.3 L149.8,900.0 L153.9,897.9 L153.6,902.6 L157.7,900.5 L157.4,905.2 L161.5,903.1 L161.2,907.8 L165.3,905.7 L165.0,910.4 L169.1,908.3" stroke="#2a80d6" stroke-width="2" fill="none" stroke-linejoin="round" stroke-linecap="round"/>
<path d="M212.8,856.7 L209.5,859.3 L213.4,860.7 L210.1,863.3 L214.0,864.7 L210.7,867.3 L214.6,868.7 L211.3,871.3 L215.2,872.7 L211.9,875.3 L215.8,876.7" stroke="#bfe0f7" stroke-width="5" fill="none" stroke-linejoin="round" stroke-linecap="round"/>
<path d="M212.8,856.7 L209.5,859.3 L213.4,860.7 L210.1,863.3 L214.0,864.7 L210.7,867.3 L214.6,868.7 L211.3,871.3 L215.2,872.7 L211.9,875.3 L215.8,876.7" stroke="#2a80d6" stroke-width="2" fill="none" stroke-linejoin="round" stroke-linecap="round"/>
<path d="M248.7,856.5 L245.8,859.5 L249.8,860.5 L246.9,863.5 L250.9,864.5 L248.0,867.5 L252.0,868.5 L249.1,871.5 L253.1,872.5 L250.2,875.5 L254.2,876.5" stroke="#bfe0f7" stroke-width="5" fill="none" stroke-linejoin="round" stroke-linecap="round"/>
<path d="M248.7,856.5 L245.8,859.5 L249.8,860.5 L246.9,863.5 L250.9,864.5 L248.0,867.5 L252.0,868.5 L249.1,871.5 L253.1,872.5 L250.2,875.5 L254.2,876.5" stroke="#2a80d6" stroke-width="2" fill="none" stroke-linejoin="round" stroke-linecap="round"/>
<path d="M306.6,806.2 L304.4,809.8 L308.6,810.2 L306.4,813.8 L310.6,814.2 L308.4,817.8 L312.6,818.2 L310.4,821.8 L314.6,822.2 L312.4,825.8 L316.6,826.2" stroke="#bfe0f7" stroke-width="5" fill="none" stroke-linejoin="round" stroke-linecap="round"/>
<path d="M306.6,806.2 L304.4,809.8 L308.6,810.2 L306.4,813.8 L310.6,814.2 L308.4,817.8 L312.6,818.2 L310.4,821.8 L314.6,822.2 L312.4,825.8 L316.6,826.2" stroke="#2a80d6" stroke-width="2" fill="none" stroke-linejoin="round" stroke-linecap="round"/>
<line x1="327.8" y1="738.5" x2="325.5" y2="772.5" stroke="#0e0e0e" stroke-width="1.3" stroke-linecap="round" />
<line x1="227.5" y1="766.5" x2="270.0" y2="834.5" stroke="#0e0e0e" stroke-width="1.3" stroke-linecap="round" />
<line x1="113.5" y1="822.5" x2="213.0" y2="859.0" stroke="#0e0e0e" stroke-width="1.3" stroke-linecap="round" />
<line x1="319.0" y1="835.5" x2="377.0" y2="875.0" stroke="#0e0e0e" stroke-width="1.3" stroke-linecap="round" />
<line x1="283.5" y1="895.0" x2="312.0" y2="959.0" stroke="#0e0e0e" stroke-width="1.3" stroke-linecap="round" />
<line x1="195.0" y1="950.0" x2="195.0" y2="986.0" stroke="#0e0e0e" stroke-width="1.3" stroke-linecap="round" />
<text x="321.0" y="732.5" font-size="11.5" fill="#0e0e0e" font-weight="normal" stroke="#0e0e0e" stroke-width="0.4" textLength="111.0" lengthAdjust="spacing" >äußere  Membran</text>
<text x="124.0" y="760.5" font-size="11.5" fill="#0e0e0e" font-weight="normal" stroke="#0e0e0e" stroke-width="0.4" textLength="127.5" lengthAdjust="spacing" >Mitochondrienmatrix</text>
<text x="79.5" y="823.0" font-size="11.5" fill="#0e0e0e" font-weight="normal" stroke="#0e0e0e" stroke-width="0.4" textLength="28.5" lengthAdjust="spacing" >DNA</text>
<text x="380.0" y="880.5" font-size="11.5" fill="#0e0e0e" font-weight="normal" stroke="#0e0e0e" stroke-width="0.4" textLength="65.5" lengthAdjust="spacing" >Ribosomen</text>
<text x="313.5" y="969.5" font-size="11.5" fill="#0e0e0e" font-weight="normal" stroke="#0e0e0e" stroke-width="0.4" textLength="109.0" lengthAdjust="spacing" >innere  Membran</text>
<text x="171.5" y="999.0" font-size="11.5" fill="#0e0e0e" font-weight="normal" stroke="#0e0e0e" stroke-width="0.4" textLength="114.0" lengthAdjust="spacing" >Intermembranraum</text>
<rect x="1068" y="92" width="364" height="826" fill="#fff"/>
<rect x="1068" y="918" width="272" height="40" fill="#fff"/>
<circle cx="1088.0" cy="347.5" r="1.05" fill="#9a9a9a"/><circle cx="1117.6" cy="347.5" r="1.05" fill="#9a9a9a"/>
<rect x="1165" y="918" width="175" height="80" fill="#fff"/>
<rect x="1340" y="955" width="82" height="43" fill="#fff"/>
<rect x="1218.4" y="96.0" width="65.1" height="19.0" rx="1.8" fill="#14159a" stroke="#14159a" stroke-width="0.9"/>
<rect x="1218.4" y="96.0" width="17.0" height="19.0" rx="1" fill="#fff" stroke="#7a7a7a" stroke-width="0.9"/>
<text x="1225.7" y="109.1" font-size="10.5" font-weight="bold" fill="#1a1a1a" text-anchor="middle">C<tspan font-size="6.5" dy="1.5">6</tspan></text>
<text x="1242.8" y="109.5" font-size="11" fill="#e6e6ff" font-weight="normal" textLength="34.2" lengthAdjust="spacingAndGlyphs" >Glucose</text>
<rect x="1187.7" y="163.8" width="125.7" height="19.2" rx="1.8" fill="#14159a" stroke="#14159a" stroke-width="0.9"/>
<rect x="1187.7" y="163.8" width="17.7" height="19.2" rx="1" fill="#fff" stroke="#7a7a7a" stroke-width="0.9"/>
<text x="1195.4" y="177.0" font-size="10.5" font-weight="bold" fill="#1a1a1a" text-anchor="middle">C<tspan font-size="6.5" dy="1.5">6</tspan></text>
<text x="1213.7" y="176.8" font-size="10.5" fill="#e6e6ff" font-weight="normal" textLength="90.6" lengthAdjust="spacingAndGlyphs" >Glucose-6-phosphat</text>
<rect x="1188.5" y="244.0" width="123.0" height="19.3" rx="1.8" fill="#14159a" stroke="#14159a" stroke-width="0.9"/>
<rect x="1188.5" y="244.0" width="17.3" height="19.3" rx="1" fill="#fff" stroke="#7a7a7a" stroke-width="0.9"/>
<text x="1196.0" y="257.2" font-size="10.5" font-weight="bold" fill="#1a1a1a" text-anchor="middle">C<tspan font-size="6.5" dy="1.5">6</tspan></text>
<text x="1212.7" y="257.5" font-size="10.5" fill="#e6e6ff" font-weight="normal" textLength="93.9" lengthAdjust="spacingAndGlyphs" >Fructose-6-phosphat</text>
<rect x="1177.3" y="324.3" width="143.7" height="19.1" rx="1.8" fill="#14159a" stroke="#14159a" stroke-width="0.9"/>
<rect x="1177.3" y="324.3" width="17.7" height="19.1" rx="1" fill="#fff" stroke="#7a7a7a" stroke-width="0.9"/>
<text x="1185.0" y="337.5" font-size="10.5" font-weight="bold" fill="#1a1a1a" text-anchor="middle">C<tspan font-size="6.5" dy="1.5">6</tspan></text>
<text x="1200.3" y="337.5" font-size="10.5" fill="#e6e6ff" font-weight="normal" textLength="117.1" lengthAdjust="spacingAndGlyphs" >Fructose-1,6-bisphosphat</text>
<rect x="1248.0" y="115.0" width="6.0" height="11.4" fill="#1a84dc"/>
<text x="1224.5" y="138.0" font-size="10.5" fill="#353535" font-weight="normal" textLength="51.7" lengthAdjust="spacingAndGlyphs" stroke="#353535" stroke-width="0.25">Hexokinase</text>
<path d="M1248.0,142.8 L1254.0,142.8 L1254.0,152.5 L1257.0,152.5 L1251.0,160.5 L1245.0,152.5 L1248.0,152.5Z" fill="#1a84dc"/>
<rect x="1248.0" y="183.0" width="6.0" height="10.6" fill="#1a84dc"/>
<text x="1203.3" y="205.7" font-size="10.5" fill="#353535" font-weight="normal" textLength="94.4" lengthAdjust="spacingAndGlyphs" stroke="#353535" stroke-width="0.25">Glucose-6-phosphat-</text>
<text x="1227.9" y="218.8" font-size="10.5" fill="#353535" font-weight="normal" textLength="45.8" lengthAdjust="spacingAndGlyphs" stroke="#353535" stroke-width="0.25">Isomerase</text>
<path d="M1248.0,223.4 L1254.0,223.4 L1254.0,233.0 L1257.0,233.0 L1251.0,241.0 L1245.0,233.0 L1248.0,233.0Z" fill="#1a84dc"/>
<rect x="1248.0" y="263.3" width="6.0" height="11.2" fill="#1a84dc"/>
<text x="1215.7" y="286.3" font-size="10.5" fill="#353535" font-weight="normal" textLength="69.3" lengthAdjust="spacingAndGlyphs" stroke="#353535" stroke-width="0.25">Phosphofructo-</text>
<text x="1235.7" y="299.0" font-size="10.5" fill="#353535" font-weight="normal" textLength="29.5" lengthAdjust="spacingAndGlyphs" stroke="#353535" stroke-width="0.25">kinase</text>
<path d="M1248.0,304.0 L1254.0,304.0 L1254.0,312.7 L1257.0,312.7 L1251.0,320.7 L1245.0,312.7 L1248.0,312.7Z" fill="#1a84dc"/>
<text x="1192.5" y="359.0" font-size="10" fill="#0e0e0e" font-weight="normal" textLength="122.9" lengthAdjust="spacing" >Spaltung der Hexose in 2</text>
<text x="1234.8" y="370.5" font-size="10" fill="#0e0e0e" font-weight="normal" textLength="36.2" lengthAdjust="spacing" >Triosen</text>
<path d="M1248.0,343.4 L1254.0,343.4 L1254.0,374.5 L1257.0,374.5 L1251.0,382.5 L1245.0,374.5 L1248.0,374.5Z" fill="#1a84dc"/>
<text x="1230.6" y="399.7" font-size="10.5" fill="#353535" font-weight="normal" textLength="39.4" lengthAdjust="spacingAndGlyphs" stroke="#353535" stroke-width="0.25">Aldolase</text>
<path d="M1227.5,396.2 C1222.2,396.4 1204.6,395.2 1196.0,397.5 C1187.4,399.8 1180.3,405.1 1176.0,410.0 C1171.7,414.9 1171.0,424.2 1170.0,427.0" stroke="#1a84dc" stroke-width="5.5" fill="none"/>
<path d="M1169.0,436.0 L1163.8,426.5 L1175.8,427.6Z" fill="#1a84dc"/>
<path d="M1275.5,396.2 C1280.4,396.4 1296.8,395.2 1305.0,397.5 C1313.2,399.8 1320.7,405.1 1325.0,410.0 C1329.3,414.9 1330.0,424.2 1331.0,427.0" stroke="#1a84dc" stroke-width="5.5" fill="none"/>
<path d="M1332.0,436.0 L1325.2,427.6 L1337.2,426.5Z" fill="#1a84dc"/>
<rect x="1083.5" y="439.4" width="124.5" height="33.1" rx="1.8" fill="#f6f064" stroke="#8d8a5c" stroke-width="0.9"/>
<rect x="1083.5" y="439.4" width="17.7" height="33.1" rx="1" fill="#fff" stroke="#7a7a7a" stroke-width="0.9"/>
<text x="1091.1" y="459.6" font-size="10.5" font-weight="bold" fill="#1a1a1a" text-anchor="middle">C<tspan font-size="6.5" dy="1.5">3</tspan></text>
<text x="1106.5" y="452.3" font-size="10.5" fill="#3a3a12" font-weight="bold" textLength="76.2" lengthAdjust="spacingAndGlyphs" >Glycerinaldehyd-</text>
<text x="1106.5" y="465.1" font-size="10.5" fill="#3a3a12" font-weight="bold" textLength="51.8" lengthAdjust="spacingAndGlyphs" >3-phosphat</text>
<rect x="1292.0" y="440.8" width="124.5" height="33.0" rx="1.8" fill="#f6f064" stroke="#8d8a5c" stroke-width="0.9"/>
<rect x="1292.0" y="440.8" width="17.4" height="33.0" rx="1" fill="#fff" stroke="#7a7a7a" stroke-width="0.9"/>
<text x="1299.5" y="460.9" font-size="10.5" font-weight="bold" fill="#1a1a1a" text-anchor="middle">C<tspan font-size="6.5" dy="1.5">3</tspan></text>
<text x="1315.4" y="452.6" font-size="10.5" fill="#3a3a12" font-weight="bold" textLength="78.5" lengthAdjust="spacingAndGlyphs" >Dihydroxyaceton-</text>
<text x="1315.4" y="465.5" font-size="10.5" fill="#3a3a12" font-weight="bold" textLength="42.6" lengthAdjust="spacingAndGlyphs" >phosphat</text>
<rect x="1083.5" y="582.0" width="122.3" height="32.6" rx="1.8" fill="#f6f064" stroke="#8d8a5c" stroke-width="0.9"/>
<rect x="1083.5" y="582.0" width="17.7" height="32.6" rx="1" fill="#fff" stroke="#7a7a7a" stroke-width="0.9"/>
<text x="1091.1" y="601.9" font-size="10.5" font-weight="bold" fill="#1a1a1a" text-anchor="middle">C<tspan font-size="6.5" dy="1.5">3</tspan></text>
<text x="1106.9" y="594.5" font-size="10.5" fill="#3a3a12" font-weight="bold" textLength="74.4" lengthAdjust="spacingAndGlyphs" >1,3-Bisphospho-</text>
<text x="1124.0" y="607.4" font-size="10.5" fill="#3a3a12" font-weight="bold" textLength="35.8" lengthAdjust="spacingAndGlyphs" >glycerat</text>
<rect x="1292.0" y="583.4" width="124.0" height="31.6" rx="1.8" fill="#f6f064" stroke="#8d8a5c" stroke-width="0.9"/>
<rect x="1292.0" y="583.4" width="17.4" height="31.6" rx="1" fill="#fff" stroke="#7a7a7a" stroke-width="0.9"/>
<text x="1299.5" y="602.8" font-size="10.5" font-weight="bold" fill="#1a1a1a" text-anchor="middle">C<tspan font-size="6.5" dy="1.5">3</tspan></text>
<text x="1315.4" y="595.5" font-size="10.5" fill="#3a3a12" font-weight="bold" textLength="74.4" lengthAdjust="spacingAndGlyphs" >1,3-Bisphospho-</text>
<text x="1332.5" y="608.2" font-size="10.5" fill="#3a3a12" font-weight="bold" textLength="35.2" lengthAdjust="spacingAndGlyphs" >glycerat</text>
<rect x="1082.7" y="677.0" width="123.3" height="18.6" rx="1.8" fill="#f6f064" stroke="#8d8a5c" stroke-width="0.9"/>
<rect x="1082.7" y="677.0" width="17.8" height="18.6" rx="1" fill="#fff" stroke="#7a7a7a" stroke-width="0.9"/>
<text x="1090.4" y="689.9" font-size="10.5" font-weight="bold" fill="#1a1a1a" text-anchor="middle">C<tspan font-size="6.5" dy="1.5">3</tspan></text>
<text x="1104.7" y="690.3" font-size="10.5" fill="#3a3a12" font-weight="bold" textLength="86.3" lengthAdjust="spacingAndGlyphs" >3-Phosphoglycerat</text>
<rect x="1292.0" y="678.0" width="123.0" height="18.4" rx="1.8" fill="#f6f064" stroke="#8d8a5c" stroke-width="0.9"/>
<rect x="1292.0" y="678.0" width="17.4" height="18.4" rx="1" fill="#fff" stroke="#7a7a7a" stroke-width="0.9"/>
<text x="1299.5" y="690.8" font-size="10.5" font-weight="bold" fill="#1a1a1a" text-anchor="middle">C<tspan font-size="6.5" dy="1.5">3</tspan></text>
<text x="1314.0" y="690.9" font-size="10.5" fill="#3a3a12" font-weight="bold" textLength="85.4" lengthAdjust="spacingAndGlyphs" >3-Phosphoglycerat</text>
<rect x="1082.7" y="741.8" width="123.3" height="18.8" rx="1.8" fill="#f6f064" stroke="#8d8a5c" stroke-width="0.9"/>
<rect x="1082.7" y="741.8" width="17.8" height="18.8" rx="1" fill="#fff" stroke="#7a7a7a" stroke-width="0.9"/>
<text x="1090.4" y="754.8" font-size="10.5" font-weight="bold" fill="#1a1a1a" text-anchor="middle">C<tspan font-size="6.5" dy="1.5">3</tspan></text>
<text x="1104.7" y="755.0" font-size="10.5" fill="#3a3a12" font-weight="bold" textLength="86.3" lengthAdjust="spacingAndGlyphs" >2-Phosphoglycerat</text>
<rect x="1292.0" y="742.7" width="123.0" height="18.3" rx="1.8" fill="#f6f064" stroke="#8d8a5c" stroke-width="0.9"/>
<rect x="1292.0" y="742.7" width="17.4" height="18.3" rx="1" fill="#fff" stroke="#7a7a7a" stroke-width="0.9"/>
<text x="1299.5" y="755.5" font-size="10.5" font-weight="bold" fill="#1a1a1a" text-anchor="middle">C<tspan font-size="6.5" dy="1.5">3</tspan></text>
<text x="1314.0" y="755.6" font-size="10.5" fill="#3a3a12" font-weight="bold" textLength="85.4" lengthAdjust="spacingAndGlyphs" >2-Phosphoglycerat</text>
<rect x="1082.7" y="807.5" width="123.1" height="18.8" rx="1.8" fill="#f6f064" stroke="#8d8a5c" stroke-width="0.9"/>
<rect x="1082.7" y="807.5" width="17.8" height="18.8" rx="1" fill="#fff" stroke="#7a7a7a" stroke-width="0.9"/>
<text x="1090.4" y="820.5" font-size="10.5" font-weight="bold" fill="#1a1a1a" text-anchor="middle">C<tspan font-size="6.5" dy="1.5">3</tspan></text>
<text x="1105.3" y="821.3" font-size="10.5" fill="#3a3a12" font-weight="bold" textLength="94.4" lengthAdjust="spacingAndGlyphs" >Phosphoenolpyruvat</text>
<rect x="1292.0" y="808.4" width="123.0" height="19.0" rx="1.8" fill="#f6f064" stroke="#8d8a5c" stroke-width="0.9"/>
<rect x="1292.0" y="808.4" width="17.4" height="19.0" rx="1" fill="#fff" stroke="#7a7a7a" stroke-width="0.9"/>
<text x="1299.5" y="821.5" font-size="10.5" font-weight="bold" fill="#1a1a1a" text-anchor="middle">C<tspan font-size="6.5" dy="1.5">3</tspan></text>
<text x="1314.9" y="821.9" font-size="10.5" fill="#3a3a12" font-weight="bold" textLength="94.1" lengthAdjust="spacingAndGlyphs" >Phosphoenolpyruvat</text>
<rect x="1082.7" y="873.6" width="123.1" height="18.8" rx="1.8" fill="#f6f064" stroke="#8d8a5c" stroke-width="0.9"/>
<rect x="1082.7" y="873.6" width="17.8" height="18.8" rx="1" fill="#fff" stroke="#7a7a7a" stroke-width="0.9"/>
<text x="1090.4" y="886.6" font-size="10.5" font-weight="bold" fill="#1a1a1a" text-anchor="middle">C<tspan font-size="6.5" dy="1.5">3</tspan></text>
<text x="1105.3" y="887.0" font-size="10.5" fill="#3a3a12" font-weight="bold" textLength="34.4" lengthAdjust="spacingAndGlyphs" >Pyruvat</text>
<rect x="1292.0" y="874.5" width="123.0" height="19.0" rx="1.8" fill="#f6f064" stroke="#8d8a5c" stroke-width="0.9"/>
<rect x="1292.0" y="874.5" width="17.4" height="19.0" rx="1" fill="#fff" stroke="#7a7a7a" stroke-width="0.9"/>
<text x="1299.5" y="887.6" font-size="10.5" font-weight="bold" fill="#1a1a1a" text-anchor="middle">C<tspan font-size="6.5" dy="1.5">3</tspan></text>
<text x="1314.9" y="887.5" font-size="10.5" fill="#3a3a12" font-weight="bold" textLength="33.6" lengthAdjust="spacingAndGlyphs" >Pyruvat</text>
<text x="1213.5" y="425.0" font-size="10.5" fill="#353535" font-weight="normal" textLength="73.0" lengthAdjust="spacingAndGlyphs" stroke="#353535" stroke-width="0.25">Triosephosphat-</text>
<text x="1228.0" y="438.9" font-size="10.5" fill="#353535" font-weight="normal" textLength="45.5" lengthAdjust="spacingAndGlyphs" stroke="#353535" stroke-width="0.25">Isomerase</text>
<text x="1227.0" y="450.5" font-size="8.5" fill="#0e0e0e" font-weight="normal" stroke="#0e0e0e" stroke-width="0.4" textLength="39.0" lengthAdjust="spacing" >katalyse</text>
<path d="M1215.5,457.3 L1224,451.5 L1224,455 L1276,455 L1276,451.5 L1285,457.3 L1276,463.2 L1276,459.6 L1224,459.6 L1224,463.2Z" fill="#1a84dc"/>
<path d="M1198,436 C1200,431 1204,429 1208,428.5" stroke="#222" stroke-width="1.1" fill="none" stroke-linecap="round" stroke-linejoin="round" />
<path d="M1289,428.5 C1294,429 1299,432 1301,436" stroke="#222" stroke-width="1.1" fill="none" stroke-linecap="round" stroke-linejoin="round" />
<path d="M1184.8,472.5 L1191.2,472.5 L1191.2,508.8 L1194.5,508.8 L1188.0,517.3 L1181.5,508.8 L1184.8,508.8Z" fill="#1a84dc"/>
<path d="M1191.0,475.5 L1262,475.5 C1292,475.5 1306,488 1308.5,506" stroke="#1a84dc" stroke-width="5.5" fill="none"/>
<path d="M1309.3,517.0 L1302.5,508.2 L1315.5,507.8Z" fill="#1a84dc"/>
<text x="1151.0" y="531.0" font-size="10.5" fill="#353535" font-weight="normal" textLength="76.3" lengthAdjust="spacingAndGlyphs" stroke="#353535" stroke-width="0.25">Glycerinaldehyd-</text>
<text x="1161.0" y="545.0" font-size="10.5" fill="#353535" font-weight="normal" textLength="55.0" lengthAdjust="spacingAndGlyphs" stroke="#353535" stroke-width="0.25">3-phosphat-</text>
<text x="1153.0" y="557.3" font-size="10.5" fill="#353535" font-weight="normal" textLength="71.0" lengthAdjust="spacingAndGlyphs" stroke="#353535" stroke-width="0.25">Dehydrogenase</text>
<text x="1270.8" y="531.0" font-size="10.5" fill="#353535" font-weight="normal" textLength="74.9" lengthAdjust="spacingAndGlyphs" stroke="#353535" stroke-width="0.25">Glycerinaldehyd-</text>
<text x="1281.0" y="545.0" font-size="10.5" fill="#353535" font-weight="normal" textLength="55.0" lengthAdjust="spacingAndGlyphs" stroke="#353535" stroke-width="0.25">3-phosphat-</text>
<text x="1273.5" y="557.3" font-size="10.5" fill="#353535" font-weight="normal" textLength="70.0" lengthAdjust="spacingAndGlyphs" stroke="#353535" stroke-width="0.25">Dehydrogenase</text>
<path d="M1185.0,563.0 L1191.0,563.0 L1191.0,571.0 L1194.0,571.0 L1188.0,579.0 L1182.0,571.0 L1185.0,571.0Z" fill="#1a84dc"/>
<path d="M1306.3,563.0 L1312.3,563.0 L1312.3,571.0 L1315.3,571.0 L1309.3,579.0 L1303.3,571.0 L1306.3,571.0Z" fill="#1a84dc"/>
<path d="M1125,490.4 L1170,490.4 C1175,490.4 1177,493 1177,498 L1177,512" stroke="#2b4fb8" stroke-width="1.1" fill="none" stroke-linecap="round" stroke-linejoin="round" />
<path d="M1110,501.3 L1163,501.3 C1168,501.3 1170,504 1170,509 L1170,512" stroke="#2b4fb8" stroke-width="1.1" fill="none" stroke-linecap="round" stroke-linejoin="round" />
<path d="M1167.8,511 L1172.2,511 L1170,517Z" fill="#2b4fb8"/>
<path d="M1174.8,511 L1179.2,511 L1177,517Z" fill="#2b4fb8"/>
<path d="M1373,491.2 L1330,491.2 C1325,491.2 1323,494 1323,499 L1323,512" stroke="#2b4fb8" stroke-width="1.1" fill="none" stroke-linecap="round" stroke-linejoin="round" />
<path d="M1387.5,502 L1337,502 C1332,502 1330,505 1330,510 L1330,512" stroke="#2b4fb8" stroke-width="1.1" fill="none" stroke-linecap="round" stroke-linejoin="round" />
<path d="M1320.8,511 L1325.2,511 L1323,517Z" fill="#2b4fb8"/>
<path d="M1327.8,511 L1332.2,511 L1330,517Z" fill="#2b4fb8"/>
<circle cx="1119.9" cy="490.4" r="4.8" fill="#e783c0" stroke="#b23c82" stroke-width="0.9"/>
<text x="1119.9" y="493.3" font-size="7.7" fill="#6a0f45" text-anchor="middle">P</text>
<circle cx="1378.2" cy="491.2" r="4.8" fill="#e783c0" stroke="#b23c82" stroke-width="0.9"/>
<text x="1378.2" y="494.1" font-size="7.7" fill="#6a0f45" text-anchor="middle">P</text>
<ellipse cx="1099.5" cy="501.4" rx="10.5" ry="6.3" fill="#1668c8" stroke="#0d4a9a" stroke-width="0.8"/>
<text x="1099.5" y="504.0" font-size="7" fill="#9cc4f0" text-anchor="middle">H<tspan font-size="5" dy="1">2</tspan><tspan dy="-1">O</tspan></text>
<ellipse cx="1398.6" cy="502.2" rx="11.0" ry="6.8" fill="#1668c8" stroke="#0d4a9a" stroke-width="0.8"/>
<text x="1398.6" y="504.9" font-size="7" fill="#9cc4f0" text-anchor="middle">H<tspan font-size="5" dy="1">2</tspan><tspan dy="-1">O</tspan></text>
<rect x="1082.7" y="524.0" width="24.8" height="10.0" rx="2" fill="#7fd0ea" stroke="#3c8ab0" stroke-width="0.9"/>
<text x="1095.1" y="531.8" font-size="7.8" fill="#0e4c78" text-anchor="middle" textLength="17.9" lengthAdjust="spacingAndGlyphs">NAD⁺</text>
<rect x="1082.7" y="545.0" width="24.8" height="9.5" rx="2" fill="#7fd0ea" stroke="#3c8ab0" stroke-width="0.9"/>
<text x="1095.1" y="552.4" font-size="7.4" fill="#0e4c78" text-anchor="middle" textLength="17.9" lengthAdjust="spacingAndGlyphs">NADH</text>
<text x="1109.0" y="552.5" font-size="7" fill="#353535" font-weight="normal" textLength="13.0" lengthAdjust="spacingAndGlyphs" stroke="#353535" stroke-width="0.25">+H⁺</text>
<rect x="1376.5" y="525.6" width="24.3" height="9.6" rx="2" fill="#7fd0ea" stroke="#3c8ab0" stroke-width="0.9"/>
<text x="1388.7" y="533.1" font-size="7.5" fill="#0e4c78" text-anchor="middle" textLength="17.5" lengthAdjust="spacingAndGlyphs">NAD⁺</text>
<rect x="1376.5" y="546.0" width="24.3" height="10.7" rx="2" fill="#7fd0ea" stroke="#3c8ab0" stroke-width="0.9"/>
<text x="1388.7" y="554.4" font-size="8.3" fill="#0e4c78" text-anchor="middle" textLength="17.5" lengthAdjust="spacingAndGlyphs">NADH</text>
<text x="1402.0" y="554.0" font-size="7" fill="#353535" font-weight="normal" textLength="13.0" lengthAdjust="spacingAndGlyphs" stroke="#353535" stroke-width="0.25">+H⁺</text>
<text x="1112.0" y="524.0" font-size="8" fill="#0e0e0e" font-weight="normal" stroke="#0e0e0e" stroke-width="0.4" textLength="35.5" lengthAdjust="spacing" >reduziert</text>
<text x="1348.5" y="524.0" font-size="8" fill="#0e0e0e" font-weight="normal" stroke="#0e0e0e" stroke-width="0.4" textLength="38.0" lengthAdjust="spacing" >reduziert</text>
<text x="1237.0" y="513.0" font-size="9" fill="#0e0e0e" font-weight="normal" stroke="#0e0e0e" stroke-width="0.4" textLength="29.0" lengthAdjust="spacing" >Enzym</text>
<path d="M1232,507 C1229,510 1228,514 1230,518" stroke="#222" stroke-width="1.1" fill="none" stroke-linecap="round" stroke-linejoin="round" />
<rect x="1185.0" y="614.5" width="6.0" height="10.3" fill="#1a84dc"/>
<path d="M1185.0,656.5 L1191.0,656.5 L1191.0,665.0 L1194.0,665.0 L1188.0,673.0 L1182.0,665.0 L1185.0,665.0Z" fill="#1a84dc"/>
<rect x="1185.0" y="695.6" width="6.0" height="9.1" fill="#1a84dc"/>
<path d="M1185.0,722.5 L1191.0,722.5 L1191.0,728.3 L1194.0,728.3 L1188.0,736.3 L1182.0,728.3 L1185.0,728.3Z" fill="#1a84dc"/>
<rect x="1185.0" y="760.6" width="6.0" height="10.1" fill="#1a84dc"/>
<path d="M1185.0,789.6 L1191.0,789.6 L1191.0,795.4 L1194.0,795.4 L1188.0,803.4 L1182.0,795.4 L1185.0,795.4Z" fill="#1a84dc"/>
<rect x="1185.0" y="826.3" width="6.0" height="11.0" fill="#1a84dc"/>
<path d="M1185.0,854.4 L1191.0,854.4 L1191.0,861.5 L1194.0,861.5 L1188.0,869.5 L1182.0,861.5 L1185.0,861.5Z" fill="#1a84dc"/>
<rect x="1306.3" y="615.3" width="6.0" height="10.3" fill="#1a84dc"/>
<path d="M1306.3,657.3 L1312.3,657.3 L1312.3,665.8 L1315.3,665.8 L1309.3,673.8 L1303.3,665.8 L1306.3,665.8Z" fill="#1a84dc"/>
<rect x="1306.3" y="696.4" width="6.0" height="9.1" fill="#1a84dc"/>
<path d="M1306.3,723.3 L1312.3,723.3 L1312.3,729.1 L1315.3,729.1 L1309.3,737.1 L1303.3,729.1 L1306.3,729.1Z" fill="#1a84dc"/>
<rect x="1306.3" y="761.4" width="6.0" height="10.1" fill="#1a84dc"/>
<path d="M1306.3,790.4 L1312.3,790.4 L1312.3,796.2 L1315.3,796.2 L1309.3,804.2 L1303.3,796.2 L1306.3,796.2Z" fill="#1a84dc"/>
<rect x="1306.3" y="827.1" width="6.0" height="11.0" fill="#1a84dc"/>
<path d="M1306.3,855.2 L1312.3,855.2 L1312.3,862.3 L1315.3,862.3 L1309.3,870.3 L1303.3,862.3 L1306.3,862.3Z" fill="#1a84dc"/>
<text x="1148.0" y="638.6" font-size="10.5" fill="#353535" font-weight="normal" textLength="79.3" lengthAdjust="spacingAndGlyphs" stroke="#353535" stroke-width="0.25">Phosphoglycerat-</text>
<text x="1173.0" y="651.5" font-size="10.5" fill="#353535" font-weight="normal" textLength="29.5" lengthAdjust="spacingAndGlyphs" stroke="#353535" stroke-width="0.25">Kinase</text>
<text x="1268.6" y="638.6" font-size="10.5" fill="#353535" font-weight="normal" textLength="77.9" lengthAdjust="spacingAndGlyphs" stroke="#353535" stroke-width="0.25">Phosphoglycerat-</text>
<text x="1293.4" y="651.5" font-size="10.5" fill="#353535" font-weight="normal" textLength="29.6" lengthAdjust="spacingAndGlyphs" stroke="#353535" stroke-width="0.25">Kinase</text>
<text x="1089.0" y="717.0" font-size="10.5" fill="#353535" font-weight="normal" textLength="112.0" lengthAdjust="spacingAndGlyphs" stroke="#353535" stroke-width="0.25">Phosphoglycerat-Mutase</text>
<text x="1298.3" y="718.0" font-size="10.5" fill="#353535" font-weight="normal" textLength="112.1" lengthAdjust="spacingAndGlyphs" stroke="#353535" stroke-width="0.25">Phosphoglycerat-Mutase</text>
<text x="1170.8" y="783.0" font-size="10.5" fill="#353535" font-weight="normal" textLength="35.0" lengthAdjust="spacingAndGlyphs" stroke="#353535" stroke-width="0.25">Enolase</text>
<text x="1291.0" y="784.0" font-size="10.5" fill="#353535" font-weight="normal" textLength="35.4" lengthAdjust="spacingAndGlyphs" stroke="#353535" stroke-width="0.25">Enolase</text>
<text x="1138.6" y="848.9" font-size="10.5" fill="#353535" font-weight="normal" textLength="68.0" lengthAdjust="spacingAndGlyphs" stroke="#353535" stroke-width="0.25">Pyruvat-Kinase</text>
<text x="1291.4" y="849.4" font-size="10.5" fill="#353535" font-weight="normal" textLength="68.1" lengthAdjust="spacingAndGlyphs" stroke="#353535" stroke-width="0.25">Pyruvat-Kinase</text>
<line x1="1166.5" y1="778.5" x2="1110.0" y2="778.5" stroke="#2b4fb8" stroke-width="1.1" stroke-linecap="round" />
<path d="M1106,778.5 L1112,776 L1112,781Z" fill="#2b4fb8"/>
<line x1="1331.0" y1="779.6" x2="1387.0" y2="779.6" stroke="#2b4fb8" stroke-width="1.1" stroke-linecap="round" />
<path d="M1391,779.6 L1385,777.1 L1385,782.1Z" fill="#2b4fb8"/>
<ellipse cx="1093.0" cy="779.0" rx="11.0" ry="7.0" fill="#1668c8" stroke="#0d4a9a" stroke-width="0.8"/>
<text x="1093.0" y="781.6" font-size="7" fill="#9cc4f0" text-anchor="middle">H<tspan font-size="5" dy="1">2</tspan><tspan dy="-1">O</tspan></text>
<ellipse cx="1404.8" cy="780.0" rx="10.8" ry="7.0" fill="#1668c8" stroke="#0d4a9a" stroke-width="0.8"/>
<text x="1404.8" y="782.6" font-size="7" fill="#9cc4f0" text-anchor="middle">H<tspan font-size="5" dy="1">2</tspan><tspan dy="-1">O</tspan></text>
<text x="1104.8" y="107.5" font-size="8.6" fill="#484848" font-weight="bold" text-anchor="middle">C</text>
<text x="1100.3" y="104.0" font-size="4.5" fill="#484848" font-weight="bold" text-anchor="middle">1</text>
<text x="1116.0" y="102.5" font-size="8.6" fill="#484848" font-weight="bold" text-anchor="middle">H</text>
<line x1="1108.0" y1="101.5" x2="1112.5" y2="99.0" stroke="#484848" stroke-width="0.9" stroke-linecap="round" />
<text x="1117.0" y="115.5" font-size="8.6" fill="#484848" font-weight="bold" text-anchor="middle">O</text>
<line x1="1108.0" y1="106.0" x2="1113.0" y2="110.5" stroke="#484848" stroke-width="1.6" stroke-linecap="round" />
<line x1="1104.8" y1="108.7" x2="1104.8" y2="118.4" stroke="#484848" stroke-width="1"/>
<text x="1104.8" y="125.0" font-size="8.6" fill="#484848" font-weight="bold" text-anchor="middle">C</text>
<text x="1101.2" y="125.0" font-size="8.6" fill="#484848" font-weight="bold" text-anchor="end">H−</text>
<text x="1108.4" y="125.0" font-size="8.6" fill="#484848" font-weight="bold" text-anchor="start">−OH</text>
<line x1="1104.8" y1="126.2" x2="1104.8" y2="132.4" stroke="#484848" stroke-width="1"/>
<text x="1104.8" y="139.0" font-size="8.6" fill="#484848" font-weight="bold" text-anchor="middle">C</text>
<text x="1101.2" y="139.0" font-size="8.6" fill="#484848" font-weight="bold" text-anchor="end">HO−</text>
<text x="1108.4" y="139.0" font-size="8.6" fill="#484848" font-weight="bold" text-anchor="start">−H</text>
<line x1="1104.8" y1="140.2" x2="1104.8" y2="146.7" stroke="#484848" stroke-width="1"/>
<text x="1104.8" y="153.3" font-size="8.6" fill="#484848" font-weight="bold" text-anchor="middle">C</text>
<text x="1101.2" y="153.3" font-size="8.6" fill="#484848" font-weight="bold" text-anchor="end">H−</text>
<text x="1108.4" y="153.3" font-size="8.6" fill="#484848" font-weight="bold" text-anchor="start">−OH</text>
<line x1="1104.8" y1="154.5" x2="1104.8" y2="160.9" stroke="#484848" stroke-width="1"/>
<text x="1104.8" y="167.5" font-size="8.6" fill="#484848" font-weight="bold" text-anchor="middle">C</text>
<text x="1101.2" y="167.5" font-size="8.6" fill="#484848" font-weight="bold" text-anchor="end">H−</text>
<text x="1108.4" y="167.5" font-size="8.6" fill="#484848" font-weight="bold" text-anchor="start">−OH</text>
<line x1="1104.8" y1="168.7" x2="1104.8" y2="175.0" stroke="#484848" stroke-width="1"/>
<text x="1104.8" y="181.6" font-size="8.6" fill="#484848" font-weight="bold" text-anchor="middle">C</text>
<text x="1101.2" y="181.6" font-size="8.6" fill="#484848" font-weight="bold" text-anchor="end">H−</text>
<text x="1108.4" y="181.6" font-size="8.6" fill="#484848" font-weight="bold" text-anchor="start">−OH</text>
<line x1="1104.8" y1="182.8" x2="1104.8" y2="188.8" stroke="#484848" stroke-width="1"/>
<text x="1104.8" y="195.5" font-size="8.6" fill="#484848" font-weight="bold" text-anchor="middle">H</text>
<text x="1103.5" y="214.5" font-size="8.6" fill="#484848" font-weight="bold" text-anchor="middle">H</text>
<line x1="1103.5" y1="215.7" x2="1103.5" y2="221.9" stroke="#484848" stroke-width="1"/>
<text x="1103.5" y="228.5" font-size="8.6" fill="#484848" font-weight="bold" text-anchor="middle">C</text>
<text x="1099.9" y="228.5" font-size="8.6" fill="#484848" font-weight="bold" text-anchor="end">H−</text>
<text x="1107.1" y="228.5" font-size="8.6" fill="#484848" font-weight="bold" text-anchor="start">−OH</text>
<line x1="1103.5" y1="229.7" x2="1103.5" y2="236.4" stroke="#484848" stroke-width="1"/>
<text x="1103.5" y="243.0" font-size="8.6" fill="#484848" font-weight="bold" text-anchor="middle">C</text>
<text x="1107.1" y="243.0" font-size="8.6" fill="#484848" font-weight="bold" text-anchor="start">═O</text>
<line x1="1103.5" y1="244.2" x2="1103.5" y2="250.9" stroke="#484848" stroke-width="1"/>
<text x="1103.5" y="257.5" font-size="8.6" fill="#484848" font-weight="bold" text-anchor="middle">C</text>
<text x="1099.9" y="257.5" font-size="8.6" fill="#484848" font-weight="bold" text-anchor="end">HO−</text>
<text x="1107.1" y="257.5" font-size="8.6" fill="#484848" font-weight="bold" text-anchor="start">−H</text>
<line x1="1103.5" y1="258.7" x2="1103.5" y2="265.2" stroke="#484848" stroke-width="1"/>
<text x="1103.5" y="271.8" font-size="8.6" fill="#484848" font-weight="bold" text-anchor="middle">C</text>
<text x="1099.9" y="271.8" font-size="8.6" fill="#484848" font-weight="bold" text-anchor="end">H−</text>
<text x="1107.1" y="271.8" font-size="8.6" fill="#484848" font-weight="bold" text-anchor="start">−OH</text>
<line x1="1103.5" y1="273.0" x2="1103.5" y2="279.6" stroke="#484848" stroke-width="1"/>
<text x="1103.5" y="286.2" font-size="8.6" fill="#484848" font-weight="bold" text-anchor="middle">C</text>
<text x="1099.9" y="286.2" font-size="8.6" fill="#484848" font-weight="bold" text-anchor="end">H−</text>
<text x="1107.1" y="286.2" font-size="8.6" fill="#484848" font-weight="bold" text-anchor="start">−OH</text>
<line x1="1103.5" y1="287.4" x2="1103.5" y2="294.2" stroke="#484848" stroke-width="1"/>
<text x="1103.5" y="300.8" font-size="8.6" fill="#484848" font-weight="bold" text-anchor="middle">C</text>
<text x="1099.9" y="300.8" font-size="8.6" fill="#484848" font-weight="bold" text-anchor="end">H−</text>
<text x="1107.1" y="300.8" font-size="8.6" fill="#484848" font-weight="bold" text-anchor="start">−O−</text>
<circle cx="1130.0" cy="297.5" r="4.6" fill="#e783c0" stroke="#b23c82" stroke-width="0.9"/>
<text x="1130.0" y="300.4" font-size="7.4" fill="#6a0f45" text-anchor="middle">P</text>
<line x1="1103.5" y1="302.0" x2="1103.5" y2="308.5" stroke="#484848" stroke-width="1"/>
<text x="1103.5" y="315.2" font-size="8.6" fill="#484848" font-weight="bold" text-anchor="middle">H</text>
<text x="1102.0" y="385.5" font-size="8.6" fill="#484848" font-weight="bold" text-anchor="middle">C</text>
<text x="1113.0" y="381.5" font-size="8.6" fill="#484848" font-weight="bold" text-anchor="middle">H</text>
<line x1="1106.0" y1="380.5" x2="1110.0" y2="378.5" stroke="#484848" stroke-width="0.9" stroke-linecap="round" />
<text x="1113.0" y="396.0" font-size="8.6" fill="#484848" font-weight="bold" text-anchor="middle">O</text>
<line x1="1106.0" y1="385.0" x2="1110.0" y2="389.5" stroke="#484848" stroke-width="1.6" stroke-linecap="round" />
<line x1="1102.0" y1="386.7" x2="1102.0" y2="399.4" stroke="#484848" stroke-width="1"/>
<text x="1102.0" y="406.0" font-size="8.6" fill="#484848" font-weight="bold" text-anchor="middle">C</text>
<text x="1098.4" y="406.0" font-size="8.6" fill="#484848" font-weight="bold" text-anchor="end">H−</text>
<text x="1105.6" y="406.0" font-size="8.6" fill="#484848" font-weight="bold" text-anchor="start">−OH</text>
<line x1="1102.0" y1="407.2" x2="1102.0" y2="414.4" stroke="#484848" stroke-width="1"/>
<text x="1102.0" y="421.0" font-size="8.6" fill="#484848" font-weight="bold" text-anchor="middle">C</text>
<text x="1098.4" y="421.0" font-size="8.6" fill="#484848" font-weight="bold" text-anchor="end">H−</text>
<text x="1105.6" y="421.0" font-size="8.6" fill="#484848" font-weight="bold" text-anchor="start">−O−</text>
<circle cx="1128.7" cy="417.4" r="4.6" fill="#e783c0" stroke="#b23c82" stroke-width="0.9"/>
<text x="1128.7" y="420.3" font-size="7.4" fill="#6a0f45" text-anchor="middle">P</text>
<line x1="1102.0" y1="422.2" x2="1102.0" y2="429.4" stroke="#484848" stroke-width="1"/>
<text x="1102.0" y="436.0" font-size="8.6" fill="#484848" font-weight="bold" text-anchor="middle">H</text>
<text x="1384.5" y="141.0" font-size="8.6" fill="#484848" font-weight="bold" text-anchor="middle">C</text>
<text x="1396.0" y="137.0" font-size="8.6" fill="#484848" font-weight="bold" text-anchor="middle">H</text>
<line x1="1388.5" y1="136.5" x2="1392.5" y2="134.0" stroke="#484848" stroke-width="0.9" stroke-linecap="round" />
<text x="1397.0" y="149.5" font-size="8.6" fill="#484848" font-weight="bold" text-anchor="middle">O</text>
<line x1="1388.5" y1="140.0" x2="1393.0" y2="144.5" stroke="#484848" stroke-width="1.6" stroke-linecap="round" />
<line x1="1384.5" y1="142.2" x2="1384.5" y2="152.8" stroke="#484848" stroke-width="1"/>
<text x="1384.5" y="159.3" font-size="8.6" fill="#484848" font-weight="bold" text-anchor="middle">C</text>
<text x="1380.9" y="159.3" font-size="8.6" fill="#484848" font-weight="bold" text-anchor="end">H−</text>
<text x="1388.1" y="159.3" font-size="8.6" fill="#484848" font-weight="bold" text-anchor="start">−OH</text>
<line x1="1384.5" y1="160.5" x2="1384.5" y2="167.0" stroke="#484848" stroke-width="1"/>
<text x="1384.5" y="173.6" font-size="8.6" fill="#484848" font-weight="bold" text-anchor="middle">C</text>
<text x="1380.9" y="173.6" font-size="8.6" fill="#484848" font-weight="bold" text-anchor="end">HO−</text>
<text x="1388.1" y="173.6" font-size="8.6" fill="#484848" font-weight="bold" text-anchor="start">−H</text>
<line x1="1384.5" y1="174.8" x2="1384.5" y2="181.0" stroke="#484848" stroke-width="1"/>
<text x="1384.5" y="187.6" font-size="8.6" fill="#484848" font-weight="bold" text-anchor="middle">C</text>
<text x="1380.9" y="187.6" font-size="8.6" fill="#484848" font-weight="bold" text-anchor="end">H−</text>
<text x="1388.1" y="187.6" font-size="8.6" fill="#484848" font-weight="bold" text-anchor="start">−OH</text>
<line x1="1384.5" y1="188.8" x2="1384.5" y2="195.0" stroke="#484848" stroke-width="1"/>
<text x="1384.5" y="201.6" font-size="8.6" fill="#484848" font-weight="bold" text-anchor="middle">C</text>
<text x="1380.9" y="201.6" font-size="8.6" fill="#484848" font-weight="bold" text-anchor="end">H−</text>
<text x="1388.1" y="201.6" font-size="8.6" fill="#484848" font-weight="bold" text-anchor="start">−OH</text>
<line x1="1384.5" y1="202.8" x2="1384.5" y2="209.3" stroke="#484848" stroke-width="1"/>
<text x="1384.5" y="215.9" font-size="8.6" fill="#484848" font-weight="bold" text-anchor="middle">C</text>
<text x="1380.9" y="215.9" font-size="8.6" fill="#484848" font-weight="bold" text-anchor="end">H−</text>
<text x="1388.1" y="215.9" font-size="8.6" fill="#484848" font-weight="bold" text-anchor="start">−O−</text>
<circle cx="1411.3" cy="212.3" r="4.6" fill="#e783c0" stroke="#b23c82" stroke-width="0.9"/>
<text x="1411.3" y="215.2" font-size="7.4" fill="#6a0f45" text-anchor="middle">P</text>
<line x1="1384.5" y1="217.1" x2="1384.5" y2="223.8" stroke="#484848" stroke-width="1"/>
<text x="1384.5" y="230.3" font-size="8.6" fill="#484848" font-weight="bold" text-anchor="middle">H</text>
<text x="1384.5" y="255.9" font-size="8.6" fill="#484848" font-weight="bold" text-anchor="middle">H</text>
<line x1="1384.5" y1="257.1" x2="1384.5" y2="263.7" stroke="#484848" stroke-width="1"/>
<text x="1384.5" y="270.3" font-size="8.6" fill="#484848" font-weight="bold" text-anchor="middle">C</text>
<text x="1380.9" y="270.3" font-size="8.6" fill="#484848" font-weight="bold" text-anchor="end">H−</text>
<text x="1388.1" y="270.3" font-size="8.6" fill="#484848" font-weight="bold" text-anchor="start">−O−</text>
<line x1="1384.5" y1="271.5" x2="1384.5" y2="277.7" stroke="#484848" stroke-width="1"/>
<text x="1384.5" y="284.3" font-size="8.6" fill="#484848" font-weight="bold" text-anchor="middle">C</text>
<text x="1388.1" y="284.3" font-size="8.6" fill="#484848" font-weight="bold" text-anchor="start">═O</text>
<line x1="1384.5" y1="285.5" x2="1384.5" y2="292.0" stroke="#484848" stroke-width="1"/>
<text x="1384.5" y="298.6" font-size="8.6" fill="#484848" font-weight="bold" text-anchor="middle">C</text>
<text x="1380.9" y="298.6" font-size="8.6" fill="#484848" font-weight="bold" text-anchor="end">HO−</text>
<text x="1388.1" y="298.6" font-size="8.6" fill="#484848" font-weight="bold" text-anchor="start">−H</text>
<line x1="1384.5" y1="299.8" x2="1384.5" y2="311.0" stroke="#484848" stroke-width="1"/>
<text x="1384.5" y="317.6" font-size="8.6" fill="#484848" font-weight="bold" text-anchor="middle">C</text>
<text x="1380.9" y="317.6" font-size="8.6" fill="#484848" font-weight="bold" text-anchor="end">H−</text>
<text x="1388.1" y="317.6" font-size="8.6" fill="#484848" font-weight="bold" text-anchor="start">−OH</text>
<line x1="1384.5" y1="318.8" x2="1384.5" y2="324.7" stroke="#484848" stroke-width="1"/>
<text x="1384.5" y="331.3" font-size="8.6" fill="#484848" font-weight="bold" text-anchor="middle">C</text>
<text x="1380.9" y="331.3" font-size="8.6" fill="#484848" font-weight="bold" text-anchor="end">H−</text>
<text x="1388.1" y="331.3" font-size="8.6" fill="#484848" font-weight="bold" text-anchor="start">−OH</text>
<line x1="1384.5" y1="332.5" x2="1384.5" y2="339.3" stroke="#484848" stroke-width="1"/>
<text x="1384.5" y="345.9" font-size="8.6" fill="#484848" font-weight="bold" text-anchor="middle">C</text>
<text x="1380.9" y="345.9" font-size="8.6" fill="#484848" font-weight="bold" text-anchor="end">H−</text>
<text x="1388.1" y="345.9" font-size="8.6" fill="#484848" font-weight="bold" text-anchor="start">−O−</text>
<circle cx="1410.7" cy="266.7" r="4.6" fill="#e783c0" stroke="#b23c82" stroke-width="0.9"/>
<text x="1410.7" y="269.6" font-size="7.4" fill="#6a0f45" text-anchor="middle">P</text>
<circle cx="1410.0" cy="342.3" r="4.6" fill="#e783c0" stroke="#b23c82" stroke-width="0.9"/>
<text x="1410.0" y="345.2" font-size="7.4" fill="#6a0f45" text-anchor="middle">P</text>
<line x1="1365.0" y1="304.3" x2="1416.5" y2="304.3" stroke="#666" stroke-width="0.8" stroke-linecap="round" stroke-dasharray="1.5,1.5"/>
<line x1="1384.5" y1="347.1" x2="1384.5" y2="353.0" stroke="#484848" stroke-width="1"/>
<text x="1384.5" y="359.6" font-size="8.6" fill="#484848" font-weight="bold" text-anchor="middle">H</text>
<text x="1383.7" y="378.6" font-size="8.6" fill="#484848" font-weight="bold" text-anchor="middle">H</text>
<line x1="1383.7" y1="379.8" x2="1383.7" y2="386.3" stroke="#484848" stroke-width="1"/>
<text x="1383.7" y="392.9" font-size="8.6" fill="#484848" font-weight="bold" text-anchor="middle">C</text>
<text x="1380.1" y="392.9" font-size="8.6" fill="#484848" font-weight="bold" text-anchor="end">H−</text>
<text x="1387.3" y="392.9" font-size="8.6" fill="#484848" font-weight="bold" text-anchor="start">−O−</text>
<line x1="1383.7" y1="394.1" x2="1383.7" y2="400.6" stroke="#484848" stroke-width="1"/>
<text x="1383.7" y="407.2" font-size="8.6" fill="#484848" font-weight="bold" text-anchor="middle">C</text>
<text x="1387.3" y="407.2" font-size="8.6" fill="#484848" font-weight="bold" text-anchor="start">═O</text>
<line x1="1383.7" y1="408.4" x2="1383.7" y2="416.0" stroke="#484848" stroke-width="1"/>
<text x="1383.7" y="422.6" font-size="8.6" fill="#484848" font-weight="bold" text-anchor="middle">C</text>
<text x="1380.1" y="422.6" font-size="8.6" fill="#484848" font-weight="bold" text-anchor="end">H−</text>
<text x="1387.3" y="422.6" font-size="8.6" fill="#484848" font-weight="bold" text-anchor="start">−OH</text>
<circle cx="1411.2" cy="389.3" r="4.6" fill="#e783c0" stroke="#b23c82" stroke-width="0.9"/>
<text x="1411.2" y="392.2" font-size="7.4" fill="#6a0f45" text-anchor="middle">P</text>
<line x1="1383.7" y1="423.8" x2="1383.7" y2="430.3" stroke="#484848" stroke-width="1"/>
<text x="1383.7" y="436.9" font-size="8.6" fill="#484848" font-weight="bold" text-anchor="middle">H</text>
<text x="1230.0" y="578.0" font-size="8.6" fill="#484848" font-weight="bold" text-anchor="middle">IŌ</text>
<text x="1242.2" y="584.5" font-size="8.6" fill="#484848" font-weight="bold" text-anchor="middle">C</text>
<text x="1254.3" y="578.0" font-size="8.6" fill="#484848" font-weight="bold" text-anchor="middle">Ō−</text>
<line x1="1235.0" y1="576.5" x2="1239.5" y2="580.0" stroke="#484848" stroke-width="1.6" stroke-linecap="round" />
<line x1="1245.0" y1="580.0" x2="1250.0" y2="576.5" stroke="#484848" stroke-width="0.9" stroke-linecap="round" />
<circle cx="1268.4" cy="574.8" r="5.0" fill="#e783c0" stroke="#b23c82" stroke-width="0.9"/>
<text x="1268.4" y="577.7" font-size="8.0" fill="#6a0f45" text-anchor="middle">P</text>
<line x1="1242.2" y1="585.5" x2="1242.2" y2="596.0" stroke="#484848" stroke-width="1"/>
<text x="1242.2" y="602.3" font-size="8.6" fill="#484848" font-weight="bold" text-anchor="middle">C</text>
<text x="1238.6" y="602.3" font-size="8.6" fill="#484848" font-weight="bold" text-anchor="end">H−</text>
<text x="1245.8" y="602.3" font-size="8.6" fill="#484848" font-weight="bold" text-anchor="start">−OH</text>
<line x1="1242.2" y1="603.5" x2="1242.2" y2="610.0" stroke="#484848" stroke-width="1"/>
<text x="1242.2" y="616.6" font-size="8.6" fill="#484848" font-weight="bold" text-anchor="middle">C</text>
<text x="1238.6" y="616.6" font-size="8.6" fill="#484848" font-weight="bold" text-anchor="end">H−</text>
<text x="1245.8" y="616.6" font-size="8.6" fill="#484848" font-weight="bold" text-anchor="start">−Ō−</text>
<circle cx="1268.4" cy="612.6" r="5.0" fill="#e783c0" stroke="#b23c82" stroke-width="0.9"/>
<text x="1268.4" y="615.5" font-size="8.0" fill="#6a0f45" text-anchor="middle">P</text>
<line x1="1242.2" y1="618.0" x2="1242.2" y2="624.0" stroke="#484848" stroke-width="1"/>
<text x="1242.2" y="630.4" font-size="8.6" fill="#484848" font-weight="bold" text-anchor="middle">H</text>
<text x="1230.0" y="659.4" font-size="8.6" fill="#484848" font-weight="bold" text-anchor="middle">IŌ</text>
<text x="1242.2" y="665.9" font-size="8.6" fill="#484848" font-weight="bold" text-anchor="middle">C</text>
<text x="1254.3" y="659.4" font-size="8.6" fill="#484848" font-weight="bold" text-anchor="middle">ŌI⁻</text>
<line x1="1235.0" y1="657.9" x2="1239.5" y2="661.4" stroke="#484848" stroke-width="1.6" stroke-linecap="round" />
<line x1="1245.0" y1="661.4" x2="1250.0" y2="657.9" stroke="#484848" stroke-width="0.9" stroke-linecap="round" />
<line x1="1242.2" y1="667.5" x2="1242.2" y2="677.5" stroke="#484848" stroke-width="1"/>
<text x="1242.2" y="683.8" font-size="8.6" fill="#484848" font-weight="bold" text-anchor="middle">C</text>
<text x="1238.6" y="683.8" font-size="8.6" fill="#484848" font-weight="bold" text-anchor="end">H−</text>
<text x="1245.8" y="683.8" font-size="8.6" fill="#484848" font-weight="bold" text-anchor="start">−OH</text>
<line x1="1242.2" y1="685.0" x2="1242.2" y2="691.6" stroke="#484848" stroke-width="1"/>
<text x="1242.2" y="698.2" font-size="8.6" fill="#484848" font-weight="bold" text-anchor="middle">C</text>
<text x="1238.6" y="698.2" font-size="8.6" fill="#484848" font-weight="bold" text-anchor="end">H−</text>
<text x="1245.8" y="698.2" font-size="8.6" fill="#484848" font-weight="bold" text-anchor="start">−Ō−</text>
<circle cx="1268.4" cy="694.2" r="5.0" fill="#e783c0" stroke="#b23c82" stroke-width="0.9"/>
<text x="1268.4" y="697.1" font-size="8.0" fill="#6a0f45" text-anchor="middle">P</text>
<line x1="1242.2" y1="699.5" x2="1242.2" y2="705.5" stroke="#484848" stroke-width="1"/>
<text x="1242.2" y="711.5" font-size="8.6" fill="#484848" font-weight="bold" text-anchor="middle">H</text>
<text x="1230.0" y="724.0" font-size="8.6" fill="#484848" font-weight="bold" text-anchor="middle">IŌ</text>
<text x="1242.2" y="730.5" font-size="8.6" fill="#484848" font-weight="bold" text-anchor="middle">C</text>
<text x="1254.3" y="724.0" font-size="8.6" fill="#484848" font-weight="bold" text-anchor="middle">ŌI⁻</text>
<line x1="1235.0" y1="722.5" x2="1239.5" y2="726.0" stroke="#484848" stroke-width="1.6" stroke-linecap="round" />
<line x1="1245.0" y1="726.0" x2="1250.0" y2="722.5" stroke="#484848" stroke-width="0.9" stroke-linecap="round" />
<line x1="1242.2" y1="732.0" x2="1242.2" y2="742.0" stroke="#484848" stroke-width="1"/>
<text x="1242.2" y="748.3" font-size="8.6" fill="#484848" font-weight="bold" text-anchor="middle">C</text>
<text x="1238.6" y="748.3" font-size="8.6" fill="#484848" font-weight="bold" text-anchor="end">H−</text>
<text x="1245.8" y="748.3" font-size="8.6" fill="#484848" font-weight="bold" text-anchor="start">−Ō−</text>
<line x1="1242.2" y1="749.5" x2="1242.2" y2="756.1" stroke="#484848" stroke-width="1"/>
<text x="1242.2" y="762.7" font-size="8.6" fill="#484848" font-weight="bold" text-anchor="middle">C</text>
<text x="1238.6" y="762.7" font-size="8.6" fill="#484848" font-weight="bold" text-anchor="end">H−</text>
<text x="1245.8" y="762.7" font-size="8.6" fill="#484848" font-weight="bold" text-anchor="start">−OH</text>
<circle cx="1268.4" cy="744.6" r="5.0" fill="#e783c0" stroke="#b23c82" stroke-width="0.9"/>
<text x="1268.4" y="747.5" font-size="8.0" fill="#6a0f45" text-anchor="middle">P</text>
<line x1="1242.2" y1="764.0" x2="1242.2" y2="770.5" stroke="#484848" stroke-width="1"/>
<text x="1242.2" y="777.0" font-size="8.6" fill="#484848" font-weight="bold" text-anchor="middle">H</text>
<text x="1230.0" y="791.0" font-size="8.6" fill="#484848" font-weight="bold" text-anchor="middle">IŌ</text>
<text x="1242.2" y="797.5" font-size="8.6" fill="#484848" font-weight="bold" text-anchor="middle">C</text>
<text x="1254.3" y="791.0" font-size="8.6" fill="#484848" font-weight="bold" text-anchor="middle">ŌI⁻</text>
<line x1="1235.0" y1="789.5" x2="1239.5" y2="793.0" stroke="#484848" stroke-width="1.6" stroke-linecap="round" />
<line x1="1245.0" y1="793.0" x2="1250.0" y2="789.5" stroke="#484848" stroke-width="0.9" stroke-linecap="round" />
<line x1="1242.2" y1="799.0" x2="1242.2" y2="807.5" stroke="#484848" stroke-width="1"/>
<text x="1242.2" y="814.0" font-size="8.6" fill="#484848" font-weight="bold" text-anchor="middle">C</text>
<text x="1245.8" y="814.0" font-size="8.6" fill="#484848" font-weight="bold" text-anchor="start">−Ō−</text>
<circle cx="1268.0" cy="809.5" r="5.0" fill="#e783c0" stroke="#b23c82" stroke-width="0.9"/>
<text x="1268.0" y="812.4" font-size="8.0" fill="#6a0f45" text-anchor="middle">P</text>
<line x1="1240.9" y1="815.5" x2="1240.9" y2="822.5" stroke="#484848" stroke-width="0.9"/><line x1="1243.5" y1="815.5" x2="1243.5" y2="822.5" stroke="#484848" stroke-width="0.9"/>
<text x="1242.2" y="829.0" font-size="8.6" fill="#484848" font-weight="bold" text-anchor="middle">C</text>
<text x="1238.6" y="829.0" font-size="8.6" fill="#484848" font-weight="bold" text-anchor="end">H−</text>
<line x1="1242.2" y1="830.3" x2="1242.2" y2="836.5" stroke="#484848" stroke-width="1"/>
<text x="1242.2" y="842.7" font-size="8.6" fill="#484848" font-weight="bold" text-anchor="middle">H</text>
<text x="1230.0" y="856.8" font-size="8.6" fill="#484848" font-weight="bold" text-anchor="middle">IŌ</text>
<text x="1242.2" y="863.3" font-size="8.6" fill="#484848" font-weight="bold" text-anchor="middle">C</text>
<text x="1254.3" y="856.8" font-size="8.6" fill="#484848" font-weight="bold" text-anchor="middle">ŌI</text>
<line x1="1235.0" y1="855.3" x2="1239.5" y2="858.8" stroke="#484848" stroke-width="1.6" stroke-linecap="round" />
<line x1="1245.0" y1="858.8" x2="1250.0" y2="855.3" stroke="#484848" stroke-width="0.9" stroke-linecap="round" />
<line x1="1242.2" y1="865.0" x2="1242.2" y2="873.5" stroke="#484848" stroke-width="1"/>
<text x="1242.2" y="880.7" font-size="8.6" fill="#484848" font-weight="bold" text-anchor="middle">C</text>
<text x="1245.8" y="880.7" font-size="8.6" fill="#484848" font-weight="bold" text-anchor="start">═O</text>
<line x1="1242.2" y1="882.0" x2="1242.2" y2="888.5" stroke="#484848" stroke-width="1"/>
<text x="1242.2" y="895.2" font-size="8.6" fill="#484848" font-weight="bold" text-anchor="middle">C</text>
<text x="1238.6" y="895.2" font-size="8.6" fill="#484848" font-weight="bold" text-anchor="end">H−</text>
<text x="1245.8" y="895.2" font-size="8.6" fill="#484848" font-weight="bold" text-anchor="start">−H</text>
<line x1="1242.2" y1="896.5" x2="1242.2" y2="903.0" stroke="#484848" stroke-width="1"/>
<text x="1242.2" y="909.7" font-size="8.6" fill="#484848" font-weight="bold" text-anchor="middle">H</text>
<defs><linearGradient id="cg" x1="0" y1="0" x2="0" y2="1">
<stop offset="0" stop-color="#c4ecf6"/><stop offset="0.45" stop-color="#7cc3e6"/><stop offset="1" stop-color="#1f7fcc"/></linearGradient></defs>
<rect x="1321.0" y="119.2" width="24.3" height="11.2" rx="2" fill="#e2196f" stroke="#a8124f" stroke-width="0.9"/>
<text x="1333.2" y="127.9" font-size="8.7" fill="#5a0428" text-anchor="middle" textLength="17.5" lengthAdjust="spacingAndGlyphs">ATP</text>
<rect x="1321.0" y="140.5" width="24.3" height="11.2" rx="2" fill="#f28cc6" stroke="#c0508e" stroke-width="0.9"/>
<text x="1333.2" y="149.2" font-size="8.7" fill="#7a1a50" text-anchor="middle" textLength="17.5" lengthAdjust="spacingAndGlyphs">ADP</text>
<path d="M1319.0,124.6 C1299.5,124.1 1296.5,129.4 1298.5,137.4 C1301.5,145.3 1305.5,146.3 1311.5,146.3" stroke="url(#cg)" stroke-width="4.6" fill="none"/>
<path d="M1320.0,146.3 L1311.5,140.8 L1311.5,151.8Z" fill="#1f7fcc"/>
<rect x="1321.0" y="274.0" width="24.0" height="11.0" rx="2" fill="#e2196f" stroke="#a8124f" stroke-width="0.9"/>
<text x="1333.0" y="282.6" font-size="8.6" fill="#5a0428" text-anchor="middle" textLength="17.3" lengthAdjust="spacingAndGlyphs">ATP</text>
<rect x="1321.0" y="294.2" width="24.0" height="11.2" rx="2" fill="#f28cc6" stroke="#c0508e" stroke-width="0.9"/>
<text x="1333.0" y="302.9" font-size="8.7" fill="#7a1a50" text-anchor="middle" textLength="17.3" lengthAdjust="spacingAndGlyphs">ADP</text>
<path d="M1319.0,279.5 C1299.5,279.0 1296.5,284.0 1298.5,292.0 C1301.5,299.5 1305.5,300.5 1311.5,300.5" stroke="url(#cg)" stroke-width="4.6" fill="none"/>
<path d="M1320.0,300.5 L1311.5,295.0 L1311.5,306.0Z" fill="#1f7fcc"/>
<rect x="1082.7" y="624.8" width="24.3" height="11.0" rx="2" fill="#f28cc6" stroke="#c0508e" stroke-width="0.9"/>
<text x="1094.8" y="633.4" font-size="8.6" fill="#7a1a50" text-anchor="middle" textLength="17.5" lengthAdjust="spacingAndGlyphs">ADP</text>
<rect x="1082.7" y="646.8" width="24.3" height="11.0" rx="2" fill="#e2196f" stroke="#a8124f" stroke-width="0.9"/>
<text x="1094.8" y="655.4" font-size="8.6" fill="#5a0428" text-anchor="middle" textLength="17.5" lengthAdjust="spacingAndGlyphs">ATP</text>
<path d="M1108.5,629.8 C1129.5,629.3 1132.5,634.9 1130.5,642.9 C1127.5,651.0 1123.0,652.0 1117.0,652.0" stroke="url(#cg)" stroke-width="4.6" fill="none"/>
<path d="M1108.5,652.0 L1117.0,646.5 L1117.0,657.5Z" fill="#1f7fcc"/>
<rect x="1392.0" y="627.5" width="24.0" height="10.2" rx="2" fill="#f28cc6" stroke="#c0508e" stroke-width="0.9"/>
<text x="1404.0" y="635.5" font-size="8.0" fill="#7a1a50" text-anchor="middle" textLength="17.3" lengthAdjust="spacingAndGlyphs">ADP</text>
<rect x="1392.0" y="648.5" width="24.0" height="10.7" rx="2" fill="#e2196f" stroke="#a8124f" stroke-width="0.9"/>
<text x="1404.0" y="656.9" font-size="8.3" fill="#5a0428" text-anchor="middle" textLength="17.3" lengthAdjust="spacingAndGlyphs">ATP</text>
<path d="M1390.5,632.5 C1370.5,632.0 1367.5,637.2 1369.5,645.2 C1372.5,653.0 1376.5,654.0 1382.5,654.0" stroke="url(#cg)" stroke-width="4.6" fill="none"/>
<path d="M1391.0,654.0 L1382.5,648.5 L1382.5,659.5Z" fill="#1f7fcc"/>
<rect x="1082.7" y="833.7" width="23.9" height="10.2" rx="2" fill="#f28cc6" stroke="#c0508e" stroke-width="0.9"/>
<text x="1094.7" y="841.7" font-size="8.0" fill="#7a1a50" text-anchor="middle" textLength="17.2" lengthAdjust="spacingAndGlyphs">ADP</text>
<rect x="1082.7" y="854.9" width="23.9" height="10.5" rx="2" fill="#e2196f" stroke="#a8124f" stroke-width="0.9"/>
<text x="1094.7" y="863.1" font-size="8.2" fill="#5a0428" text-anchor="middle" textLength="17.2" lengthAdjust="spacingAndGlyphs">ATP</text>
<path d="M1108.0,838.8 C1129.0,838.3 1132.0,843.5 1130.0,851.5 C1127.0,859.2 1122.5,860.2 1116.5,860.2" stroke="url(#cg)" stroke-width="4.6" fill="none"/>
<path d="M1108.0,860.2 L1116.5,854.7 L1116.5,865.7Z" fill="#1f7fcc"/>
<rect x="1391.0" y="835.0" width="24.0" height="10.5" rx="2" fill="#f28cc6" stroke="#c0508e" stroke-width="0.9"/>
<text x="1403.0" y="843.2" font-size="8.2" fill="#7a1a50" text-anchor="middle" textLength="17.3" lengthAdjust="spacingAndGlyphs">ADP</text>
<rect x="1391.0" y="856.6" width="24.0" height="10.4" rx="2" fill="#e2196f" stroke="#a8124f" stroke-width="0.9"/>
<text x="1403.0" y="864.7" font-size="8.1" fill="#5a0428" text-anchor="middle" textLength="17.3" lengthAdjust="spacingAndGlyphs">ATP</text>
<path d="M1389.5,840.0 C1369.0,839.5 1366.0,844.9 1368.0,852.9 C1371.0,860.8 1375.5,861.8 1381.5,861.8" stroke="url(#cg)" stroke-width="4.6" fill="none"/>
<path d="M1390.0,861.8 L1381.5,856.3 L1381.5,867.3Z" fill="#1f7fcc"/>
<path d="M1108.5,529.0 C1144.5,528.5 1147.5,533.6 1145.5,541.6 C1142.5,549.3 1140.0,550.3 1134.0,550.3" stroke="url(#cg)" stroke-width="4.6" fill="none"/>
<path d="M1125.5,550.3 L1134.0,544.8 L1134.0,555.8Z" fill="#1f7fcc"/>
<path d="M1375.0,530.4 C1353.5,529.9 1350.5,534.9 1352.5,542.9 C1355.5,550.4 1357.5,551.4 1363.5,551.4" stroke="url(#cg)" stroke-width="4.6" fill="none"/>
<path d="M1372.0,551.4 L1363.5,545.9 L1363.5,556.9Z" fill="#1f7fcc"/>
<text x="1360.0" y="102.5" font-size="9" fill="#0e0e0e" font-weight="normal" stroke="#0e0e0e" stroke-width="0.4" textLength="77.5" lengthAdjust="spacing" >Aktivierung  durch</text>
<text x="1414.0" y="117.8" font-size="9" fill="#0e0e0e" font-weight="normal" stroke="#0e0e0e" stroke-width="0.4" textLength="51.0" lengthAdjust="spacing" >Übertragung</text>
<text x="1418.5" y="131.0" font-size="9" fill="#0e0e0e" font-weight="normal" stroke="#0e0e0e" stroke-width="0.4" textLength="27.0" lengthAdjust="spacing" >von  P</text>
<path d="M1354.7,127.4 C1370,114 1392,110 1404,118 C1418,128 1419,160 1417.5,198" stroke="#0e0e0e" stroke-width="1.3" fill="none" stroke-linecap="round" stroke-linejoin="round" />
<path d="M1413.5,192 L1417.5,199 L1421,192" stroke="#0e0e0e" stroke-width="1.3" fill="none" stroke-linecap="round" stroke-linejoin="round" />
<text transform="translate(1324.3,176.5) rotate(90)" font-size="9" font-weight="bold" fill="#161616" textLength="60" lengthAdjust="spacing">umlagerung</text>
<path d="M1322,184.5 C1319.5,200 1318.5,220 1314.5,232.5" stroke="#0e0e0e" stroke-width="1.2" fill="none" stroke-linecap="round" stroke-linejoin="round" />
<path d="M1312,226 L1314.3,233 L1319.5,229.5" stroke="#0e0e0e" stroke-width="1.2" fill="none" stroke-linecap="round" stroke-linejoin="round" />
<text transform="translate(1430,245) rotate(90)" font-size="9" font-weight="bold" fill="#161616" textLength="65" lengthAdjust="spacing">übertragung</text>
<path d="M1349.8,274.5 C1362,250 1385,235 1403,237 C1425,241 1432,275 1420.7,330.6" stroke="#0e0e0e" stroke-width="1.3" fill="none" stroke-linecap="round" stroke-linejoin="round" />
<path d="M1416,325 L1420.5,331.5 L1425,326" stroke="#0e0e0e" stroke-width="1.3" fill="none" stroke-linecap="round" stroke-linejoin="round" />
<path d="M1075,468.8 L1082,491 C1070,500 1061,514 1058.5,532 C1056.5,550 1059,566 1071.7,583.3" stroke="#0e0e0e" stroke-width="1.3" fill="none" stroke-linecap="round" stroke-linejoin="round" />
<path d="M1069.3,576.3 L1071.9,583.5 L1064.6,582" stroke="#0e0e0e" stroke-width="1.3" fill="none" stroke-linecap="round" stroke-linejoin="round" />
<text transform="translate(1055.5,542) rotate(-72)" font-size="9" font-weight="bold" fill="#161616" textLength="49" lengthAdjust="spacing">oxidation</text>
<path d="M1419,458 C1426,463 1426,478 1423,484 L1414.5,495 C1426,503 1434,520 1436,545 C1437,565 1432,582 1425.5,590.5" stroke="#0e0e0e" stroke-width="1.3" fill="none" stroke-linecap="round" stroke-linejoin="round" />
<path d="M1423.8,583.5 L1425.3,590.8 L1432,588" stroke="#0e0e0e" stroke-width="1.3" fill="none" stroke-linecap="round" stroke-linejoin="round" />
<text transform="translate(1428.5,504) rotate(78)" font-size="9" font-weight="bold" fill="#161616" textLength="52" lengthAdjust="spacing">oxidation</text>
<text x="1456.0" y="523.5" font-size="11" fill="#0e0e0e" font-weight="normal" stroke="#0e0e0e" stroke-width="0.4" textLength="57.5" lengthAdjust="spacing" >+  Energie</text>
<text transform="translate(1068.7,679) rotate(-90)" font-size="9" font-weight="bold" fill="#161616" textLength="67" lengthAdjust="spacing">Übertragung</text>
<text transform="translate(1076.5,667.5) rotate(-90)" font-size="9" font-weight="bold" fill="#161616" textLength="27" lengthAdjust="spacing">von P</text>
<text transform="translate(1425.5,613) rotate(90)" font-size="9" font-weight="bold" fill="#161616" textLength="62" lengthAdjust="spacing">übertragung</text>
<text transform="translate(1418.3,631) rotate(90)" font-size="9" font-weight="bold" fill="#161616" textLength="24" lengthAdjust="spacing">von P</text>
<path d="M1015,509.5 C1030,500 1048,491 1074,487 C1085,485.5 1095,485.5 1103,487.5" stroke="#e98ab6" stroke-width="1.2" fill="none" stroke-linecap="round" stroke-linejoin="round" stroke-dasharray="4,3"/>
<path d="M1102,484.5 L1105.5,487.8 L1102,490.5" stroke="#e98ab6" stroke-width="1.1" fill="none" stroke-linecap="round" stroke-linejoin="round" />
<path d="M1392,488 C1405,485 1425,484 1440,490 C1455,497 1466,504 1476,511" stroke="#e98ab6" stroke-width="1.2" fill="none" stroke-linecap="round" stroke-linejoin="round" stroke-dasharray="4,3"/>
<path d="M1396,484.5 L1392.5,487.8 L1396,490.5" stroke="#e98ab6" stroke-width="1.1" fill="none" stroke-linecap="round" stroke-linejoin="round" />
<path d="M1135,832 C1160,829 1180,830 1200,835 C1215,839 1230,843 1244,843 C1252,841 1260,830 1266,817" stroke="#e98ab6" stroke-width="1.2" fill="none" stroke-linecap="round" stroke-linejoin="round" stroke-dasharray="4,3"/>
<path d="M1276,818 C1280,826 1286,832 1296,835 C1312,838 1340,838 1365,836" stroke="#e98ab6" stroke-width="1.2" fill="none" stroke-linecap="round" stroke-linejoin="round" stroke-dasharray="4,3"/>
<path d="M1177,278 L1185,296" stroke="#eaa0c6" stroke-width="4.2" stroke-linecap="round"/>
<circle cx="1189.5" cy="306" r="2.3" fill="#eaa0c6"/>
<path d="M1203.5,284 L1205,296" stroke="#eaa0c6" stroke-width="4.2" stroke-linecap="round"/>
<circle cx="1205.5" cy="307" r="2.3" fill="#eaa0c6"/>
<text x="1082" y="913" font-size="10" font-weight="bold" fill="#222">A</text>
<line x1="1082.0" y1="917.7" x2="1415.0" y2="917.7" stroke="#777" stroke-width="1" stroke-linecap="round" />
<rect x="1081.3" y="930" width="44.100000000000136" height="14.700000000000045" rx="2.5" fill="#14159a"/>
<text x="1103.3" y="941.1" font-size="10.5" fill="#e6e6ff" text-anchor="middle" textLength="35.3" lengthAdjust="spacingAndGlyphs">Glucose</text>
<text x="1127.0" y="941.5" font-size="10" fill="#353535" font-weight="normal" textLength="13.0" lengthAdjust="spacingAndGlyphs" stroke="#353535" stroke-width="0.25">+2</text>
<rect x="1142.7" y="930.3" width="32.3" height="14.4" rx="2" fill="#7fd0ea" stroke="#3c8ab0" stroke-width="0.9"/>
<text x="1158.8" y="941.5" font-size="11.2" fill="#0e4c78" text-anchor="middle" textLength="23.3" lengthAdjust="spacingAndGlyphs">NAD⁺</text>
<text x="1177.5" y="941.5" font-size="10" fill="#353535" font-weight="normal" textLength="12.5" lengthAdjust="spacingAndGlyphs" stroke="#353535" stroke-width="0.25">+2</text>
<rect x="1192.3" y="930.3" width="31.7" height="14.4" rx="2" fill="#f28cc6" stroke="#c0508e" stroke-width="0.9"/>
<text x="1208.2" y="941.5" font-size="11.2" fill="#7a1a50" text-anchor="middle" textLength="22.8" lengthAdjust="spacingAndGlyphs">ADP</text>
<text x="1227.5" y="941.5" font-size="10" fill="#353535" font-weight="normal" textLength="12.5" lengthAdjust="spacingAndGlyphs" stroke="#353535" stroke-width="0.25">+2</text>
<circle cx="1249.0" cy="937.5" r="6.3" fill="#e783c0" stroke="#b23c82" stroke-width="0.9"/>
<text x="1249.0" y="940.4" font-size="10.1" fill="#6a0f45" text-anchor="middle">P</text>
<path d="M1260.3,937.5 L1303.5,937.5 Q1308.5,937.5 1308.5,942.5 L1308.5,954 Q1308.5,959 1303.5,959 L1181.3,959 Q1176.3,959 1176.3,964 L1176.3,975.5 Q1176.3,980.5 1181.3,980.5 L1232,980.5" stroke="#333" stroke-width="1.3" fill="none" stroke-linecap="round" stroke-linejoin="round" />
<path d="M1238,980.5 L1231,977.8 L1231,983.2Z" fill="#333"/>
<text x="1240.5" y="984.0" font-size="10" fill="#353535" font-weight="normal" textLength="5.5" lengthAdjust="spacingAndGlyphs" stroke="#353535" stroke-width="0.25">2</text>
<rect x="1248" y="974" width="43" height="14.5" rx="2" fill="#f6f064" stroke="#8d8a5c" stroke-width="0.9"/>
<text x="1252.0" y="985.0" font-size="10.5" fill="#3a3a12" font-weight="normal" textLength="35.0" lengthAdjust="spacingAndGlyphs" >Pyruvat</text>
<text x="1293.5" y="984.0" font-size="10" fill="#353535" font-weight="normal" textLength="13.5" lengthAdjust="spacingAndGlyphs" stroke="#353535" stroke-width="0.25">+2</text>
<rect x="1309.3" y="974.0" width="31.7" height="14.5" rx="2" fill="#7fd0ea" stroke="#3c8ab0" stroke-width="0.9"/>
<text x="1325.2" y="985.3" font-size="11.3" fill="#0e4c78" text-anchor="middle" textLength="22.8" lengthAdjust="spacingAndGlyphs">NADH</text>
<text x="1343.0" y="984.0" font-size="10" fill="#353535" font-weight="normal" textLength="38.5" lengthAdjust="spacingAndGlyphs" stroke="#353535" stroke-width="0.25">+2H⁺ +2</text>
<rect x="1383.0" y="974.0" width="31.5" height="14.8" rx="2" fill="#e2196f" stroke="#a8124f" stroke-width="0.9"/>
<text x="1398.8" y="985.6" font-size="11.5" fill="#5a0428" text-anchor="middle" textLength="22.7" lengthAdjust="spacingAndGlyphs">ATP</text>
</svg></body></html>
